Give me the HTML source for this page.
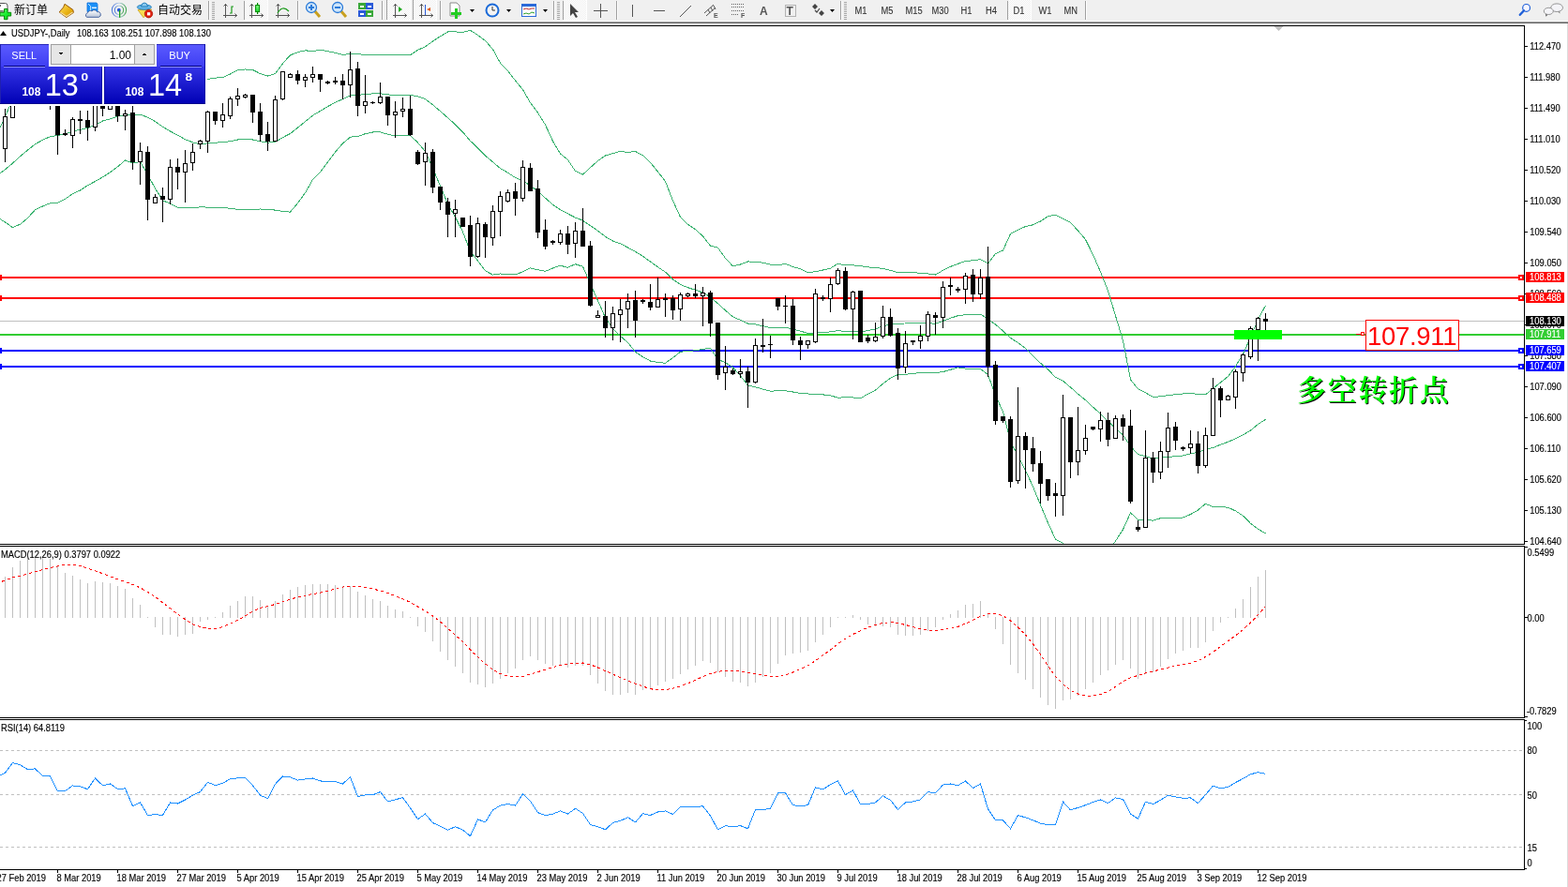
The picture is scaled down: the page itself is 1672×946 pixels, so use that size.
<!DOCTYPE html>
<html><head><meta charset="utf-8"><title>USDJPY Daily</title>
<style>
html,body{margin:0;padding:0;background:#fff;width:1672px;height:946px;overflow:hidden}
svg{display:block;position:absolute;left:0;top:0}
text{white-space:pre}
</style></head>
<body>
<svg width="1672" height="946" viewBox="0 0 1672 946">
<rect x="0" y="0" width="1672" height="946" fill="#fff"/>
<defs><pattern id="chk" x="0" y="0" width="2" height="2" patternUnits="userSpaceOnUse"><rect width="2" height="2" fill="#f0f0f0"/><rect width="1" height="1" fill="#ffffff"/><rect x="1" y="1" width="1" height="1" fill="#ffffff"/></pattern></defs>
<rect x="0" y="0" width="1672" height="22" fill="#f0f0f0"/>
<rect x="0" y="22" width="1672" height="1" fill="#f8f8f8"/>
<rect x="0" y="23" width="1672" height="1" fill="#a0a0a0"/>
<rect x="0" y="24" width="1672" height="1" fill="#646464"/>
<path d="M-2,3.5 h7.5 a2.5,2.5 0 0 1 2.5,2.5 v6 h-10 z" fill="#fff" stroke="#555" stroke-width="1"/>
<rect x="-1" y="5" width="2" height="2" fill="#666"/><circle cx="5.5" cy="5.5" r="0.9" fill="#fff"/>
<rect x="-1" y="11" width="4" height="1.2" fill="#777"/>
<linearGradient id="gpl" x1="0" y1="0" x2="1" y2="1"><stop offset="0" stop-color="#8aff8a"/><stop offset="0.5" stop-color="#18f030"/><stop offset="1" stop-color="#10c020"/></linearGradient>
<path d="M4.5,9.5 h3.5 v3.8 h3.7 v3.7 h-3.7 v3.7 h-3.5 v-3.7 h-4.5 v-3.7 h4.5 z" fill="url(#gpl)" stroke="#078a07" stroke-width="1"/>
<text x="15" y="14.6" font-family="'Liberation Sans', 'Noto Sans CJK SC', sans-serif" font-size="12" fill="#000">新订单</text>
<linearGradient id="ggo" x1="0" y1="0" x2="1" y2="1"><stop offset="0" stop-color="#ffe060"/><stop offset="0.6" stop-color="#e8b010"/><stop offset="1" stop-color="#c88a08"/></linearGradient>
<path d="M69,4.3 L77.8,10.4 L78.4,13.4 L70.8,18.6 L63.2,12.9 L67.6,7.8 Z" fill="url(#ggo)" stroke="#9a5a08" stroke-width="1" stroke-linejoin="round"/>
<path d="M64.5,13.3 L71,17.6 L77.5,13" fill="none" stroke="#f4dc98" stroke-width="1.2"/>
<path d="M93,3 h10 l1,1.5 v8 h-11 z" fill="#1a90f8" stroke="#1070d8" stroke-width="0.8"/>
<path d="M94,4 l2.6,2.6 v6" fill="none" stroke="#d8f0ff" stroke-width="0.9"/>
<rect x="98" y="7.6" width="5" height="1.4" fill="#e8f6ff"/>
<linearGradient id="gcl" x1="0" y1="0" x2="0" y2="1"><stop offset="0" stop-color="#ffffff"/><stop offset="1" stop-color="#b8c4d8"/></linearGradient>
<path d="M92.5,18.3 a2.6,2.6 0 0 1 1,-4.6 a3,3 0 0 1 4.5,-1.8 a3.3,3.3 0 0 1 5.5,0.8 a2.8,2.8 0 0 1 1.8,5.6 z" fill="url(#gcl)" stroke="#3a5a9a" stroke-width="0.9"/>
<linearGradient id="gsg" x1="0" y1="0" x2="1" y2="0"><stop offset="0" stop-color="#3a6ad8"/><stop offset="0.5" stop-color="#b8d0e8"/><stop offset="1" stop-color="#2a9a3a"/></linearGradient>
<circle cx="127" cy="10.8" r="7.6" fill="none" stroke="url(#gsg)" stroke-width="1.1" opacity="0.85"/>
<circle cx="127" cy="10.8" r="4.7" fill="none" stroke="url(#gsg)" stroke-width="1.1" opacity="0.85"/>
<circle cx="126.8" cy="10.7" r="1.9" fill="#2a5ad8"/>
<rect x="127" y="11" width="1.3" height="7.8" fill="#18a018"/>
<path d="M147,10.6 L161.8,10 L153,18.8 Z" fill="#f8de50" stroke="#c8a020" stroke-width="0.8" stroke-linejoin="round"/>
<ellipse cx="153.9" cy="7.6" rx="7.6" ry="2.6" fill="#6ab8e8" stroke="#1a78b8" stroke-width="0.9"/>
<path d="M150.5,7 q0.5,-4 3.5,-4 q3,0 3.5,4 z" fill="#8ccaf0" stroke="#1a78b8" stroke-width="0.9"/>
<circle cx="158.5" cy="14.7" r="4.2" fill="#e02010" stroke="#a81808" stroke-width="0.8"/>
<rect x="157" y="13.2" width="3.2" height="3.2" fill="#fff"/>
<text x="168" y="14.6" font-family="'Liberation Sans', 'Noto Sans CJK SC', sans-serif" font-size="12" fill="#000">自动交易</text>
<rect x="222" y="1" width="1" height="20" fill="#a0a0a0"/>
<rect x="223" y="1" width="1" height="20" fill="#ffffff"/>
<rect x="226" y="2" width="3" height="1" fill="#a8a8a8"/>
<rect x="226" y="4" width="3" height="1" fill="#a8a8a8"/>
<rect x="226" y="6" width="3" height="1" fill="#a8a8a8"/>
<rect x="226" y="8" width="3" height="1" fill="#a8a8a8"/>
<rect x="226" y="10" width="3" height="1" fill="#a8a8a8"/>
<rect x="226" y="12" width="3" height="1" fill="#a8a8a8"/>
<rect x="226" y="14" width="3" height="1" fill="#a8a8a8"/>
<rect x="226" y="16" width="3" height="1" fill="#a8a8a8"/>
<rect x="226" y="18" width="3" height="1" fill="#a8a8a8"/>
<rect x="226" y="20" width="3" height="1" fill="#a8a8a8"/>
<path d="M240.5,4 v15 M238,16.5 h15" fill="none" stroke="#555" stroke-width="1"/>
<path d="M238.5,6.5 l2,-2 l2,2" fill="none" stroke="#555"/>
<path d="M250.5,14.5 l2,2 l-2,2" fill="none" stroke="#555"/>
<path d="M245,14 h2 v-7 h2" fill="none" stroke="#1a9a1a" stroke-width="1.2"/>
<rect x="260" y="1" width="1" height="20" fill="#a0a0a0"/>
<rect x="261" y="1" width="1" height="20" fill="#ffffff"/>
<rect x="261" y="0" width="24" height="21" fill="url(#chk)"/>
<rect x="285" y="0" width="1" height="22" fill="#ffffff"/>
<rect x="261" y="21" width="25" height="1" fill="#ffffff"/>
<path d="M268.5,4 v15 M266,16.5 h15" fill="none" stroke="#555" stroke-width="1"/>
<path d="M266.5,6.5 l2,-2 l2,2" fill="none" stroke="#555"/>
<path d="M278.5,14.5 l2,2 l-2,2" fill="none" stroke="#555"/>
<rect x="274" y="3" width="1.2" height="12" fill="#008a00"/>
<linearGradient id="gcd" x1="0" y1="0" x2="0" y2="1"><stop offset="0" stop-color="#8aff8a"/><stop offset="1" stop-color="#18d830"/></linearGradient>
<rect x="272.6" y="5.6" width="4" height="7" fill="url(#gcd)" stroke="#008a00" stroke-width="1"/>
<path d="M296.5,4 v15 M294,16.5 h15" fill="none" stroke="#555" stroke-width="1"/>
<path d="M294.5,6.5 l2,-2 l2,2" fill="none" stroke="#555"/>
<path d="M306.5,14.5 l2,2 l-2,2" fill="none" stroke="#555"/>
<path d="M296,14 Q301,5 308,12" fill="none" stroke="#1a9a1a" stroke-width="1.2"/>
<rect x="317" y="1" width="1" height="20" fill="#a0a0a0"/>
<rect x="318" y="1" width="1" height="20" fill="#ffffff"/>
<line x1="335" y1="11" x2="341" y2="18" stroke="#c8a020" stroke-width="3"/>
<circle cx="332" cy="8" r="5.5" fill="#cfe6fa" stroke="#2a7ad8" stroke-width="1.3"/>
<rect x="329" y="7" width="6" height="2" fill="#2a7ad8"/>
<rect x="331" y="5" width="2" height="6" fill="#2a7ad8"/>
<line x1="363" y1="11" x2="369" y2="18" stroke="#c8a020" stroke-width="3"/>
<circle cx="360" cy="8" r="5.5" fill="#cfe6fa" stroke="#2a7ad8" stroke-width="1.3"/>
<rect x="357" y="7" width="6" height="2" fill="#2a7ad8"/>
<rect x="382" y="3" width="8" height="7" fill="#3aa83a"/><rect x="390" y="3" width="8" height="7" fill="#2a5ad8"/>
<rect x="382" y="11" width="8" height="7" fill="#2a5ad8"/><rect x="390" y="11" width="8" height="7" fill="#3aa83a"/>
<rect x="384" y="6" width="4" height="2" fill="#fff"/><rect x="392" y="6" width="4" height="2" fill="#fff"/><rect x="384" y="14" width="4" height="2" fill="#fff"/><rect x="392" y="14" width="4" height="2" fill="#fff"/>
<rect x="407" y="1" width="1" height="20" fill="#a0a0a0"/>
<rect x="408" y="1" width="1" height="20" fill="#ffffff"/>
<rect x="412" y="0" width="1" height="21" fill="#a0a0a0"/>
<rect x="413" y="0" width="24" height="21" fill="url(#chk)"/>
<rect x="437" y="0" width="1" height="22" fill="#ffffff"/>
<rect x="413" y="21" width="25" height="1" fill="#ffffff"/>
<path d="M421.5,4 v15 M419,16.5 h15" fill="none" stroke="#555" stroke-width="1"/>
<path d="M419.5,6.5 l2,-2 l2,2" fill="none" stroke="#555"/>
<path d="M431.5,14.5 l2,2 l-2,2" fill="none" stroke="#555"/>
<path d="M425,7 l4,3 l-4,3 z" fill="#22aa22"/>
<rect x="440" y="0" width="1" height="21" fill="#a0a0a0"/>
<rect x="441" y="0" width="24" height="21" fill="url(#chk)"/>
<rect x="465" y="0" width="1" height="22" fill="#ffffff"/>
<rect x="441" y="21" width="25" height="1" fill="#ffffff"/>
<path d="M449.5,4 v15 M447,16.5 h15" fill="none" stroke="#555" stroke-width="1"/>
<path d="M447.5,6.5 l2,-2 l2,2" fill="none" stroke="#555"/>
<path d="M459.5,14.5 l2,2 l-2,2" fill="none" stroke="#555"/>
<rect x="453" y="5" width="1" height="11" fill="#2a5ad8"/>
<path d="M459,8 l-4,2 l4,2 z" fill="#e05a1a"/>
<rect x="469" y="1" width="1" height="20" fill="#a0a0a0"/>
<rect x="470" y="1" width="1" height="20" fill="#ffffff"/>
<path d="M480,3 h7 l3,3 v11 h-10 z" fill="#fff" stroke="#8a8a8a"/>
<rect x="485" y="9" width="3" height="11" fill="#22cc22"/><rect x="481" y="13" width="11" height="3" fill="#22cc22"/>
<path d="M501,10 h5 l-2.5,3 z" fill="#000"/>
<circle cx="525" cy="11" r="7.5" fill="#1a6ad8"/><circle cx="525" cy="11" r="5.5" fill="#f4f4f4"/>
<path d="M525,7 v4 h3" fill="none" stroke="#333" stroke-width="1"/>
<path d="M540,10 h5 l-2.5,3 z" fill="#000"/>
<rect x="556.5" y="4.5" width="15" height="13" fill="#fff" stroke="#2a6ad8"/>
<rect x="557" y="5" width="14" height="2" fill="#2a6ad8"/>
<path d="M558,10 l3,-1 l3,1 l3,-1 l3,0" fill="none" stroke="#c03030"/>
<path d="M558,15 l3,-1 l3,1 l3,-2 l3,1" fill="none" stroke="#30a030"/>
<path d="M579,10 h5 l-2.5,3 z" fill="#000"/>
<rect x="590" y="1" width="1" height="20" fill="#a0a0a0"/>
<rect x="591" y="1" width="1" height="20" fill="#ffffff"/>
<rect x="594" y="2" width="3" height="1" fill="#a8a8a8"/>
<rect x="594" y="4" width="3" height="1" fill="#a8a8a8"/>
<rect x="594" y="6" width="3" height="1" fill="#a8a8a8"/>
<rect x="594" y="8" width="3" height="1" fill="#a8a8a8"/>
<rect x="594" y="10" width="3" height="1" fill="#a8a8a8"/>
<rect x="594" y="12" width="3" height="1" fill="#a8a8a8"/>
<rect x="594" y="14" width="3" height="1" fill="#a8a8a8"/>
<rect x="594" y="16" width="3" height="1" fill="#a8a8a8"/>
<rect x="594" y="18" width="3" height="1" fill="#a8a8a8"/>
<rect x="594" y="20" width="3" height="1" fill="#a8a8a8"/>
<rect x="600" y="1" width="1" height="20" fill="#a0a0a0"/>
<rect x="601" y="1" width="1" height="20" fill="#ffffff"/>
<rect x="601" y="0" width="24" height="21" fill="url(#chk)"/>
<rect x="625" y="0" width="1" height="22" fill="#ffffff"/>
<rect x="601" y="21" width="25" height="1" fill="#ffffff"/>
<path d="M608,4 L608,17 L611,14 L614,19 L616,18 L613,13 L617,13 Z" fill="#444"/>
<rect x="640" y="4" width="1" height="15" fill="#555"/><rect x="633" y="11" width="15" height="1" fill="#555"/>
<rect x="657" y="1" width="1" height="20" fill="#a0a0a0"/>
<rect x="658" y="1" width="1" height="20" fill="#ffffff"/>
<rect x="674" y="5" width="1" height="13" fill="#555"/>
<rect x="697" y="11" width="12" height="1" fill="#555"/>
<line x1="725" y1="18" x2="737" y2="6" stroke="#555" stroke-width="1"/>
<path d="M751,14 l10,-9 M753,17 l10,-9 M755,10 l2,4 M758,8 l2,4 M761,6 l2,4" fill="none" stroke="#555" stroke-width="1"/>
<text x="761" y="19" font-family="'Liberation Sans', Arial, sans-serif" font-size="7" font-weight="700" fill="#555">E</text>
<line x1="780" y1="4.5" x2="793" y2="4.5" stroke="#666" stroke-width="1" stroke-dasharray="1 1"/>
<line x1="780" y1="7.5" x2="793" y2="7.5" stroke="#666" stroke-width="1" stroke-dasharray="1 1"/>
<line x1="780" y1="11.5" x2="793" y2="11.5" stroke="#666" stroke-width="1" stroke-dasharray="1 1"/>
<line x1="780" y1="15.5" x2="788" y2="15.5" stroke="#666" stroke-width="1" stroke-dasharray="1 1"/>
<text x="790" y="19" font-family="'Liberation Sans', Arial, sans-serif" font-size="7" font-weight="700" fill="#555">F</text>
<text x="810" y="16" font-family="'Liberation Sans', Arial, sans-serif" font-size="12" font-weight="700" fill="#555">A</text>
<rect x="837.5" y="5.5" width="11" height="12" fill="none" stroke="#777" stroke-dasharray="1 1"/>
<text x="838.5" y="16" font-family="'Liberation Sans', Arial, sans-serif" font-size="12" font-weight="700" fill="#555">T</text>
<path d="M866,7 l3,-3 l3,3 l-3,3 z M873,14 l3,-3 l3,3 l-3,3 z" fill="#444"/>
<path d="M869,11 l2,2 l3,-4" fill="none" stroke="#444" stroke-width="1.2"/>
<path d="M885,10 h5 l-2.5,3 z" fill="#000"/>
<rect x="896" y="1" width="1" height="20" fill="#a0a0a0"/>
<rect x="897" y="1" width="1" height="20" fill="#ffffff"/>
<rect x="900" y="2" width="3" height="1" fill="#a8a8a8"/>
<rect x="900" y="4" width="3" height="1" fill="#a8a8a8"/>
<rect x="900" y="6" width="3" height="1" fill="#a8a8a8"/>
<rect x="900" y="8" width="3" height="1" fill="#a8a8a8"/>
<rect x="900" y="10" width="3" height="1" fill="#a8a8a8"/>
<rect x="900" y="12" width="3" height="1" fill="#a8a8a8"/>
<rect x="900" y="14" width="3" height="1" fill="#a8a8a8"/>
<rect x="900" y="16" width="3" height="1" fill="#a8a8a8"/>
<rect x="900" y="18" width="3" height="1" fill="#a8a8a8"/>
<rect x="900" y="20" width="3" height="1" fill="#a8a8a8"/>
<text transform="translate(911.5,15) scale(0.935,1)" font-family="'Liberation Sans', Arial, sans-serif" font-size="10" fill="#333" stroke="#333" stroke-width="0.1">M1</text>
<text transform="translate(939.5,15) scale(0.935,1)" font-family="'Liberation Sans', Arial, sans-serif" font-size="10" fill="#333" stroke="#333" stroke-width="0.1">M5</text>
<text transform="translate(965.5,15) scale(0.935,1)" font-family="'Liberation Sans', Arial, sans-serif" font-size="10" fill="#333" stroke="#333" stroke-width="0.1">M15</text>
<text transform="translate(993.5,15) scale(0.935,1)" font-family="'Liberation Sans', Arial, sans-serif" font-size="10" fill="#333" stroke="#333" stroke-width="0.1">M30</text>
<text transform="translate(1024.5,15) scale(0.935,1)" font-family="'Liberation Sans', Arial, sans-serif" font-size="10" fill="#333" stroke="#333" stroke-width="0.1">H1</text>
<text transform="translate(1051,15) scale(0.935,1)" font-family="'Liberation Sans', Arial, sans-serif" font-size="10" fill="#333" stroke="#333" stroke-width="0.1">H4</text>
<rect x="1074" y="1" width="1" height="20" fill="#a0a0a0"/>
<rect x="1075" y="1" width="1" height="20" fill="#ffffff"/>
<rect x="1075" y="0" width="24" height="21" fill="url(#chk)"/>
<rect x="1099" y="0" width="1" height="22" fill="#ffffff"/>
<rect x="1075" y="21" width="25" height="1" fill="#ffffff"/>
<text transform="translate(1080.5,15) scale(0.935,1)" font-family="'Liberation Sans', Arial, sans-serif" font-size="10" fill="#333" stroke="#333" stroke-width="0.1">D1</text>
<text transform="translate(1107.5,15) scale(0.935,1)" font-family="'Liberation Sans', Arial, sans-serif" font-size="10" fill="#333" stroke="#333" stroke-width="0.1">W1</text>
<text transform="translate(1134.5,15) scale(0.935,1)" font-family="'Liberation Sans', Arial, sans-serif" font-size="10" fill="#333" stroke="#333" stroke-width="0.1">MN</text>
<rect x="1157" y="1" width="1" height="20" fill="#a0a0a0"/>
<rect x="1158" y="1" width="1" height="20" fill="#ffffff"/>
<circle cx="1627.6" cy="8.4" r="3.9" fill="#f6f6ff" stroke="#1f5fd8" stroke-width="1.2"/>
<line x1="1625" y1="11.3" x2="1620.8" y2="15.8" stroke="#1f5fd8" stroke-width="2.4" stroke-linecap="round"/>
<path d="M1661.5,12.5 L1663.5,14.5 L1663,12 Z" fill="#555"/>
<ellipse cx="1660.1" cy="8.2" rx="6.4" ry="4.3" fill="#f4f4f8" stroke="#8a8a8a" stroke-width="0.9"/>
<path d="M1648,15 L1648.5,17.8 L1650.5,15.5 Z" fill="#555"/>
<ellipse cx="1651.3" cy="11.9" rx="5" ry="3.6" fill="#f4f4f8" stroke="#8a8a8a" stroke-width="0.9"/>
<g shape-rendering="crispEdges">
<defs><clipPath id="cm"><rect x="0" y="28" width="1625" height="552"/></clipPath><clipPath id="cd"><rect x="0" y="583" width="1625" height="182"/></clipPath><clipPath id="cr"><rect x="0" y="768" width="1625" height="159"/></clipPath></defs>
<g clip-path="url(#cm)">
<rect x="0" y="342" width="1625" height="1" fill="#c0c0c0"/>
<rect x="0" y="295" width="1625" height="2" fill="#ff0000"/>
<rect x="0" y="317" width="1625" height="2" fill="#ff0000"/>
<rect x="0" y="356" width="1625" height="2" fill="#32cd32"/>
<rect x="0" y="373" width="1625" height="2" fill="#0000ff"/>
<rect x="0" y="390" width="1625" height="2" fill="#0000ff"/>
<polyline points="-3.5,143.6 5.5,124.6 13.5,105.6 21.5,94.2 29.5,87.6 37.5,83.7 45.5,78.6 53.5,74.7 61.5,72.7 69.5,73.3 77.5,73.5 85.5,73.6 93.5,75.0 101.5,73.4 109.5,69.1 117.5,69.9 125.5,70.4 133.5,74.3 141.5,69.9 149.5,71.4 157.5,64.1 165.5,58.0 173.5,56.9 181.5,62.9 189.5,67.1 197.5,75.4 205.5,81.7 213.5,87.3 221.5,84.5 229.5,83.1 237.5,82.5 245.5,79.0 253.5,74.6 261.5,74.0 269.5,74.5 277.5,78.6 285.5,81.0 293.5,78.7 301.5,67.7 309.5,58.8 317.5,55.7 325.5,53.8 333.5,54.6 341.5,53.1 349.5,54.6 357.5,56.4 365.5,58.4 373.5,57.6 381.5,57.7 389.5,58.4 397.5,58.7 405.5,58.7 413.5,58.4 421.5,58.5 429.5,58.6 437.5,58.7 445.5,53.4 453.5,49.7 461.5,44.0 469.5,38.7 477.5,34.0 485.5,33.9 493.5,34.5 501.5,32.4 509.5,37.4 517.5,43.4 525.5,52.6 533.5,67.2 541.5,75.6 549.5,85.9 557.5,95.7 565.5,109.6 573.5,120.3 581.5,133.1 589.5,150.6 597.5,164.0 605.5,170.4 613.5,182.4 621.5,186.1 629.5,178.7 637.5,171.6 645.5,166.0 653.5,163.7 661.5,161.4 669.5,162.5 677.5,161.5 685.5,165.8 693.5,173.3 701.5,183.2 709.5,193.3 717.5,214.1 725.5,231.5 733.5,239.2 741.5,244.8 749.5,251.8 757.5,262.2 765.5,264.2 773.5,275.4 781.5,283.9 789.5,282.0 797.5,279.0 805.5,279.1 813.5,280.3 821.5,282.1 829.5,282.8 837.5,281.5 845.5,284.4 853.5,286.9 861.5,290.8 869.5,289.7 877.5,288.0 885.5,286.1 893.5,281.1 901.5,283.0 909.5,282.8 917.5,283.7 925.5,284.9 933.5,285.6 941.5,286.4 949.5,288.4 957.5,290.7 965.5,290.7 973.5,290.9 981.5,291.1 989.5,292.0 997.5,293.1 1005.5,288.3 1013.5,284.4 1021.5,281.4 1029.5,278.4 1037.5,277.8 1045.5,276.7 1053.5,281.0 1061.5,270.6 1069.5,267.0 1077.5,249.4 1085.5,245.3 1093.5,241.5 1101.5,239.8 1109.5,236.0 1117.5,230.7 1125.5,229.2 1133.5,233.2 1141.5,237.4 1149.5,246.0 1157.5,255.4 1165.5,271.7 1173.5,289.8 1181.5,310.0 1189.5,336.8 1197.5,363.2 1205.5,404.9 1213.5,414.9 1221.5,418.8 1229.5,423.5 1237.5,422.8 1245.5,421.6 1253.5,420.7 1261.5,420.0 1269.5,419.2 1277.5,420.6 1285.5,420.8 1293.5,414.4 1301.5,407.9 1309.5,401.5 1317.5,390.7 1325.5,377.6 1333.5,359.7 1341.5,340.7 1349.5,325.8" fill="none" stroke="#3cb371" stroke-width="1" shape-rendering="crispEdges"/>
<polyline points="-3.5,187.5 5.5,180.8 13.5,174.1 21.5,166.7 29.5,160.1 37.5,153.7 45.5,149.3 53.5,145.7 61.5,144.5 69.5,142.8 77.5,140.1 85.5,138.3 93.5,136.4 101.5,133.4 109.5,129.0 117.5,126.8 125.5,124.1 133.5,122.6 141.5,122.0 149.5,122.0 157.5,125.2 165.5,129.5 173.5,135.3 181.5,140.0 189.5,144.2 197.5,148.7 205.5,151.8 213.5,154.0 221.5,152.8 229.5,152.1 237.5,151.8 245.5,150.7 253.5,149.0 261.5,148.8 269.5,149.0 277.5,150.8 285.5,152.1 293.5,151.4 301.5,146.6 309.5,142.5 317.5,136.1 325.5,129.7 333.5,123.1 341.5,118.4 349.5,113.6 357.5,109.2 365.5,105.7 373.5,101.9 381.5,101.5 389.5,100.5 397.5,99.9 405.5,99.8 413.5,100.8 421.5,101.7 429.5,101.6 437.5,101.5 445.5,102.8 453.5,105.6 461.5,111.8 469.5,118.6 477.5,125.7 485.5,132.8 493.5,140.9 501.5,150.3 509.5,157.8 517.5,166.1 525.5,172.8 533.5,179.6 541.5,184.2 549.5,189.4 557.5,192.8 565.5,197.8 573.5,204.1 581.5,211.2 589.5,218.3 597.5,223.6 605.5,227.9 613.5,232.1 621.5,235.2 629.5,240.7 637.5,246.1 645.5,252.4 653.5,257.0 661.5,259.8 669.5,264.0 677.5,268.4 685.5,273.2 693.5,279.1 701.5,284.8 709.5,290.2 717.5,297.9 725.5,303.4 733.5,306.7 741.5,309.3 749.5,312.0 757.5,316.8 765.5,323.8 773.5,331.0 781.5,337.9 789.5,341.4 797.5,345.0 805.5,345.9 813.5,347.7 821.5,349.6 829.5,349.9 837.5,349.1 845.5,351.2 853.5,353.2 861.5,355.4 869.5,355.1 877.5,354.5 885.5,353.9 893.5,352.7 901.5,353.4 909.5,353.3 917.5,354.3 925.5,352.5 933.5,350.9 941.5,347.8 949.5,345.9 957.5,345.1 965.5,345.0 973.5,344.7 981.5,344.3 989.5,344.7 997.5,345.3 1005.5,342.4 1013.5,339.3 1021.5,336.7 1029.5,335.7 1037.5,335.5 1045.5,335.1 1053.5,340.2 1061.5,346.1 1069.5,353.0 1077.5,360.4 1085.5,365.5 1093.5,371.6 1101.5,379.4 1109.5,387.3 1117.5,394.1 1125.5,402.3 1133.5,406.3 1141.5,413.0 1149.5,420.2 1157.5,426.7 1165.5,434.2 1173.5,441.4 1181.5,449.3 1189.5,456.9 1197.5,464.0 1205.5,475.9 1213.5,484.6 1221.5,486.6 1229.5,489.3 1237.5,487.7 1245.5,487.3 1253.5,486.8 1261.5,486.0 1269.5,483.9 1277.5,482.3 1285.5,479.1 1293.5,477.5 1301.5,474.2 1309.5,471.3 1317.5,467.8 1325.5,463.9 1333.5,459.0 1341.5,452.5 1349.5,447.3" fill="none" stroke="#3cb371" stroke-width="1" shape-rendering="crispEdges"/>
<polyline points="-3.5,231.4 5.5,237.0 13.5,242.6 21.5,239.2 29.5,232.6 37.5,223.7 45.5,220.0 53.5,216.7 61.5,216.3 69.5,212.3 77.5,206.7 85.5,203.0 93.5,197.8 101.5,193.4 109.5,188.9 117.5,183.7 125.5,177.8 133.5,170.9 141.5,174.1 149.5,172.6 157.5,186.2 165.5,201.0 173.5,213.7 181.5,217.1 189.5,221.3 197.5,221.9 205.5,221.8 213.5,220.8 221.5,221.1 229.5,221.1 237.5,221.2 245.5,222.3 253.5,223.4 261.5,223.6 269.5,223.5 277.5,223.0 285.5,223.3 293.5,224.1 301.5,225.4 309.5,226.1 317.5,216.6 325.5,205.6 333.5,191.5 341.5,183.7 349.5,172.7 357.5,162.1 365.5,153.0 373.5,146.2 381.5,145.4 389.5,142.7 397.5,141.0 405.5,140.9 413.5,143.2 421.5,144.9 429.5,144.5 437.5,144.4 445.5,152.1 453.5,161.5 461.5,179.5 469.5,198.4 477.5,217.4 485.5,231.6 493.5,247.3 501.5,268.2 509.5,278.2 517.5,288.8 525.5,293.1 533.5,291.9 541.5,292.8 549.5,292.8 557.5,289.9 565.5,285.9 573.5,287.8 581.5,289.3 589.5,286.0 597.5,283.2 605.5,285.3 613.5,281.7 621.5,284.3 629.5,302.7 637.5,320.6 645.5,338.8 653.5,350.3 661.5,358.3 669.5,365.4 677.5,375.3 685.5,380.7 693.5,385.0 701.5,386.5 709.5,387.2 717.5,381.6 725.5,375.3 733.5,374.2 741.5,373.9 749.5,372.3 757.5,371.4 765.5,383.4 773.5,386.6 781.5,391.8 789.5,400.8 797.5,411.0 805.5,412.8 813.5,415.1 821.5,417.1 829.5,416.9 837.5,416.8 845.5,418.0 853.5,419.5 861.5,420.0 869.5,420.4 877.5,420.9 885.5,421.8 893.5,424.2 901.5,423.8 909.5,423.9 917.5,424.9 925.5,420.1 933.5,416.1 941.5,409.3 949.5,403.3 957.5,399.5 965.5,399.2 973.5,398.5 981.5,397.4 989.5,397.4 997.5,397.5 1005.5,396.6 1013.5,394.3 1021.5,391.9 1029.5,393.1 1037.5,393.1 1045.5,393.6 1053.5,399.4 1061.5,421.7 1069.5,439.0 1077.5,471.5 1085.5,485.7 1093.5,501.6 1101.5,519.0 1109.5,538.6 1117.5,557.6 1125.5,575.3 1133.5,579.4 1141.5,588.6 1149.5,594.5 1157.5,597.9 1165.5,596.8 1173.5,592.9 1181.5,588.7 1189.5,577.0 1197.5,564.7 1205.5,546.9 1213.5,554.3 1221.5,554.4 1229.5,555.2 1237.5,552.7 1245.5,553.0 1253.5,552.8 1261.5,552.0 1269.5,548.6 1277.5,544.0 1285.5,537.3 1293.5,540.6 1301.5,540.5 1309.5,541.2 1317.5,544.9 1325.5,550.1 1333.5,558.2 1341.5,564.3 1349.5,568.9" fill="none" stroke="#3cb371" stroke-width="1" shape-rendering="crispEdges"/>
<rect x="5" y="116" width="1" height="57" fill="#000"/>
<rect x="3" y="124" width="5" height="35" fill="#000"/>
<rect x="4" y="125" width="3" height="33" fill="#fff"/>
<rect x="13" y="90" width="1" height="36" fill="#000"/>
<rect x="11" y="95" width="5" height="31" fill="#000"/>
<rect x="12" y="96" width="3" height="29" fill="#fff"/>
<rect x="21" y="80" width="1" height="25" fill="#000"/>
<rect x="19" y="85" width="5" height="15" fill="#000"/>
<rect x="20" y="86" width="3" height="13" fill="#fff"/>
<rect x="29" y="80" width="1" height="25" fill="#000"/>
<rect x="27" y="85" width="5" height="15" fill="#000"/>
<rect x="37" y="80" width="1" height="25" fill="#000"/>
<rect x="35" y="85" width="5" height="15" fill="#000"/>
<rect x="36" y="86" width="3" height="13" fill="#fff"/>
<rect x="45" y="80" width="1" height="25" fill="#000"/>
<rect x="43" y="85" width="5" height="15" fill="#000"/>
<rect x="53" y="85" width="1" height="32" fill="#000"/>
<rect x="51" y="90" width="5" height="15" fill="#000"/>
<rect x="61" y="95" width="1" height="70" fill="#000"/>
<rect x="59" y="100" width="5" height="44" fill="#000"/>
<rect x="69" y="138" width="1" height="7" fill="#000"/>
<rect x="67" y="142" width="5" height="2" fill="#000"/>
<rect x="77" y="125" width="1" height="33" fill="#000"/>
<rect x="75" y="127" width="5" height="18" fill="#000"/>
<rect x="76" y="128" width="3" height="16" fill="#fff"/>
<rect x="85" y="118" width="1" height="25" fill="#000"/>
<rect x="83" y="127" width="5" height="2" fill="#000"/>
<rect x="93" y="118" width="1" height="32" fill="#000"/>
<rect x="91" y="128" width="5" height="8" fill="#000"/>
<rect x="101" y="95" width="1" height="45" fill="#000"/>
<rect x="99" y="105" width="5" height="31" fill="#000"/>
<rect x="100" y="106" width="3" height="29" fill="#fff"/>
<rect x="109" y="100" width="1" height="24" fill="#000"/>
<rect x="107" y="105" width="5" height="11" fill="#000"/>
<rect x="117" y="105" width="1" height="12" fill="#000"/>
<rect x="115" y="108" width="5" height="9" fill="#000"/>
<rect x="116" y="109" width="3" height="7" fill="#fff"/>
<rect x="125" y="105" width="1" height="25" fill="#000"/>
<rect x="123" y="108" width="5" height="16" fill="#000"/>
<rect x="133" y="117" width="1" height="22" fill="#000"/>
<rect x="131" y="121" width="5" height="3" fill="#000"/>
<rect x="132" y="122" width="3" height="1" fill="#fff"/>
<rect x="141" y="113" width="1" height="68" fill="#000"/>
<rect x="139" y="120" width="5" height="53" fill="#000"/>
<rect x="149" y="152" width="1" height="45" fill="#000"/>
<rect x="147" y="161" width="5" height="12" fill="#000"/>
<rect x="148" y="162" width="3" height="10" fill="#fff"/>
<rect x="157" y="156" width="1" height="79" fill="#000"/>
<rect x="155" y="162" width="5" height="51" fill="#000"/>
<rect x="165" y="207" width="1" height="10" fill="#000"/>
<rect x="163" y="210" width="5" height="7" fill="#000"/>
<rect x="164" y="211" width="3" height="5" fill="#fff"/>
<rect x="173" y="200" width="1" height="37" fill="#000"/>
<rect x="171" y="209" width="5" height="4" fill="#000"/>
<rect x="181" y="170" width="1" height="48" fill="#000"/>
<rect x="179" y="178" width="5" height="35" fill="#000"/>
<rect x="180" y="179" width="3" height="33" fill="#fff"/>
<rect x="189" y="169" width="1" height="33" fill="#000"/>
<rect x="187" y="178" width="5" height="6" fill="#000"/>
<rect x="197" y="160" width="1" height="56" fill="#000"/>
<rect x="195" y="174" width="5" height="10" fill="#000"/>
<rect x="196" y="175" width="3" height="8" fill="#fff"/>
<rect x="205" y="153" width="1" height="29" fill="#000"/>
<rect x="203" y="162" width="5" height="12" fill="#000"/>
<rect x="204" y="163" width="3" height="10" fill="#fff"/>
<rect x="213" y="149" width="1" height="10" fill="#000"/>
<rect x="211" y="150" width="5" height="4" fill="#000"/>
<rect x="212" y="151" width="3" height="2" fill="#fff"/>
<rect x="221" y="118" width="1" height="45" fill="#000"/>
<rect x="219" y="119" width="5" height="32" fill="#000"/>
<rect x="220" y="120" width="3" height="30" fill="#fff"/>
<rect x="229" y="119" width="1" height="14" fill="#000"/>
<rect x="227" y="119" width="5" height="10" fill="#000"/>
<rect x="237" y="110" width="1" height="26" fill="#000"/>
<rect x="235" y="122" width="5" height="7" fill="#000"/>
<rect x="236" y="123" width="3" height="5" fill="#fff"/>
<rect x="245" y="103" width="1" height="24" fill="#000"/>
<rect x="243" y="105" width="5" height="19" fill="#000"/>
<rect x="244" y="106" width="3" height="17" fill="#fff"/>
<rect x="253" y="94" width="1" height="19" fill="#000"/>
<rect x="251" y="102" width="5" height="4" fill="#000"/>
<rect x="252" y="103" width="3" height="2" fill="#fff"/>
<rect x="261" y="100" width="1" height="5" fill="#000"/>
<rect x="259" y="101" width="5" height="3" fill="#000"/>
<rect x="260" y="102" width="3" height="1" fill="#fff"/>
<rect x="269" y="101" width="1" height="30" fill="#000"/>
<rect x="267" y="101" width="5" height="19" fill="#000"/>
<rect x="277" y="110" width="1" height="41" fill="#000"/>
<rect x="275" y="119" width="5" height="25" fill="#000"/>
<rect x="285" y="130" width="1" height="31" fill="#000"/>
<rect x="283" y="143" width="5" height="8" fill="#000"/>
<rect x="293" y="102" width="1" height="49" fill="#000"/>
<rect x="291" y="106" width="5" height="45" fill="#000"/>
<rect x="292" y="107" width="3" height="43" fill="#fff"/>
<rect x="301" y="76" width="1" height="31" fill="#000"/>
<rect x="299" y="76" width="5" height="30" fill="#000"/>
<rect x="300" y="77" width="3" height="28" fill="#fff"/>
<rect x="309" y="78" width="1" height="5" fill="#000"/>
<rect x="307" y="79" width="5" height="4" fill="#000"/>
<rect x="308" y="80" width="3" height="2" fill="#fff"/>
<rect x="317" y="75" width="1" height="15" fill="#000"/>
<rect x="315" y="79" width="5" height="7" fill="#000"/>
<rect x="325" y="79" width="1" height="14" fill="#000"/>
<rect x="323" y="82" width="5" height="4" fill="#000"/>
<rect x="324" y="83" width="3" height="2" fill="#fff"/>
<rect x="333" y="71" width="1" height="17" fill="#000"/>
<rect x="331" y="79" width="5" height="4" fill="#000"/>
<rect x="332" y="80" width="3" height="2" fill="#fff"/>
<rect x="341" y="79" width="1" height="19" fill="#000"/>
<rect x="339" y="79" width="5" height="6" fill="#000"/>
<rect x="349" y="86" width="1" height="4" fill="#000"/>
<rect x="347" y="87" width="5" height="2" fill="#000"/>
<rect x="357" y="82" width="1" height="8" fill="#000"/>
<rect x="355" y="86" width="5" height="2" fill="#000"/>
<rect x="365" y="79" width="1" height="27" fill="#000"/>
<rect x="363" y="86" width="5" height="5" fill="#000"/>
<rect x="373" y="55" width="1" height="49" fill="#000"/>
<rect x="371" y="74" width="5" height="17" fill="#000"/>
<rect x="372" y="75" width="3" height="15" fill="#fff"/>
<rect x="381" y="66" width="1" height="58" fill="#000"/>
<rect x="379" y="73" width="5" height="40" fill="#000"/>
<rect x="389" y="80" width="1" height="41" fill="#000"/>
<rect x="387" y="108" width="5" height="5" fill="#000"/>
<rect x="388" y="109" width="3" height="3" fill="#fff"/>
<rect x="397" y="108" width="1" height="3" fill="#000"/>
<rect x="395" y="109" width="5" height="1" fill="#000"/>
<rect x="405" y="88" width="1" height="23" fill="#000"/>
<rect x="403" y="103" width="5" height="7" fill="#000"/>
<rect x="404" y="104" width="3" height="5" fill="#fff"/>
<rect x="413" y="103" width="1" height="31" fill="#000"/>
<rect x="411" y="103" width="5" height="20" fill="#000"/>
<rect x="421" y="108" width="1" height="39" fill="#000"/>
<rect x="419" y="119" width="5" height="4" fill="#000"/>
<rect x="420" y="120" width="3" height="2" fill="#fff"/>
<rect x="429" y="104" width="1" height="21" fill="#000"/>
<rect x="427" y="116" width="5" height="3" fill="#000"/>
<rect x="428" y="117" width="3" height="1" fill="#fff"/>
<rect x="437" y="102" width="1" height="43" fill="#000"/>
<rect x="435" y="116" width="5" height="28" fill="#000"/>
<rect x="445" y="160" width="1" height="16" fill="#000"/>
<rect x="443" y="162" width="5" height="13" fill="#000"/>
<rect x="453" y="152" width="1" height="46" fill="#000"/>
<rect x="451" y="163" width="5" height="10" fill="#000"/>
<rect x="452" y="164" width="3" height="8" fill="#fff"/>
<rect x="461" y="159" width="1" height="47" fill="#000"/>
<rect x="459" y="162" width="5" height="38" fill="#000"/>
<rect x="469" y="199" width="1" height="25" fill="#000"/>
<rect x="467" y="199" width="5" height="17" fill="#000"/>
<rect x="477" y="211" width="1" height="42" fill="#000"/>
<rect x="475" y="215" width="5" height="14" fill="#000"/>
<rect x="485" y="213" width="1" height="40" fill="#000"/>
<rect x="483" y="223" width="5" height="5" fill="#000"/>
<rect x="484" y="224" width="3" height="3" fill="#fff"/>
<rect x="493" y="232" width="1" height="10" fill="#000"/>
<rect x="491" y="232" width="5" height="10" fill="#000"/>
<rect x="501" y="230" width="1" height="54" fill="#000"/>
<rect x="499" y="240" width="5" height="34" fill="#000"/>
<rect x="509" y="232" width="1" height="43" fill="#000"/>
<rect x="507" y="238" width="5" height="36" fill="#000"/>
<rect x="508" y="239" width="3" height="34" fill="#fff"/>
<rect x="517" y="237" width="1" height="38" fill="#000"/>
<rect x="515" y="239" width="5" height="14" fill="#000"/>
<rect x="525" y="219" width="1" height="43" fill="#000"/>
<rect x="523" y="225" width="5" height="29" fill="#000"/>
<rect x="524" y="226" width="3" height="27" fill="#fff"/>
<rect x="533" y="204" width="1" height="48" fill="#000"/>
<rect x="531" y="209" width="5" height="17" fill="#000"/>
<rect x="532" y="210" width="3" height="15" fill="#fff"/>
<rect x="541" y="202" width="1" height="14" fill="#000"/>
<rect x="539" y="205" width="5" height="10" fill="#000"/>
<rect x="540" y="206" width="3" height="8" fill="#fff"/>
<rect x="549" y="195" width="1" height="35" fill="#000"/>
<rect x="547" y="204" width="5" height="8" fill="#000"/>
<rect x="557" y="171" width="1" height="44" fill="#000"/>
<rect x="555" y="178" width="5" height="34" fill="#000"/>
<rect x="556" y="179" width="3" height="32" fill="#fff"/>
<rect x="565" y="174" width="1" height="30" fill="#000"/>
<rect x="563" y="179" width="5" height="25" fill="#000"/>
<rect x="573" y="192" width="1" height="62" fill="#000"/>
<rect x="571" y="201" width="5" height="47" fill="#000"/>
<rect x="581" y="234" width="1" height="32" fill="#000"/>
<rect x="579" y="245" width="5" height="18" fill="#000"/>
<rect x="589" y="256" width="1" height="5" fill="#000"/>
<rect x="587" y="257" width="5" height="2" fill="#000"/>
<rect x="597" y="245" width="1" height="16" fill="#000"/>
<rect x="595" y="249" width="5" height="10" fill="#000"/>
<rect x="596" y="250" width="3" height="8" fill="#fff"/>
<rect x="605" y="241" width="1" height="30" fill="#000"/>
<rect x="603" y="249" width="5" height="12" fill="#000"/>
<rect x="613" y="237" width="1" height="38" fill="#000"/>
<rect x="611" y="246" width="5" height="14" fill="#000"/>
<rect x="612" y="247" width="3" height="12" fill="#fff"/>
<rect x="621" y="222" width="1" height="41" fill="#000"/>
<rect x="619" y="246" width="5" height="17" fill="#000"/>
<rect x="629" y="257" width="1" height="70" fill="#000"/>
<rect x="627" y="262" width="5" height="64" fill="#000"/>
<rect x="637" y="331" width="1" height="8" fill="#000"/>
<rect x="635" y="336" width="5" height="3" fill="#000"/>
<rect x="636" y="337" width="3" height="1" fill="#fff"/>
<rect x="645" y="321" width="1" height="39" fill="#000"/>
<rect x="643" y="337" width="5" height="13" fill="#000"/>
<rect x="653" y="327" width="1" height="36" fill="#000"/>
<rect x="651" y="334" width="5" height="16" fill="#000"/>
<rect x="652" y="335" width="3" height="14" fill="#fff"/>
<rect x="661" y="319" width="1" height="46" fill="#000"/>
<rect x="659" y="330" width="5" height="6" fill="#000"/>
<rect x="660" y="331" width="3" height="4" fill="#fff"/>
<rect x="669" y="313" width="1" height="37" fill="#000"/>
<rect x="667" y="321" width="5" height="9" fill="#000"/>
<rect x="668" y="322" width="3" height="7" fill="#fff"/>
<rect x="677" y="310" width="1" height="50" fill="#000"/>
<rect x="675" y="320" width="5" height="22" fill="#000"/>
<rect x="685" y="319" width="1" height="5" fill="#000"/>
<rect x="683" y="320" width="5" height="2" fill="#000"/>
<rect x="693" y="303" width="1" height="28" fill="#000"/>
<rect x="691" y="322" width="5" height="6" fill="#000"/>
<rect x="701" y="296" width="1" height="32" fill="#000"/>
<rect x="699" y="319" width="5" height="9" fill="#000"/>
<rect x="700" y="320" width="3" height="7" fill="#fff"/>
<rect x="709" y="313" width="1" height="25" fill="#000"/>
<rect x="707" y="318" width="5" height="2" fill="#000"/>
<rect x="717" y="315" width="1" height="26" fill="#000"/>
<rect x="715" y="318" width="5" height="13" fill="#000"/>
<rect x="725" y="312" width="1" height="30" fill="#000"/>
<rect x="723" y="314" width="5" height="16" fill="#000"/>
<rect x="724" y="315" width="3" height="14" fill="#fff"/>
<rect x="733" y="312" width="1" height="5" fill="#000"/>
<rect x="731" y="313" width="5" height="3" fill="#000"/>
<rect x="732" y="314" width="3" height="1" fill="#fff"/>
<rect x="741" y="303" width="1" height="15" fill="#000"/>
<rect x="739" y="313" width="5" height="3" fill="#000"/>
<rect x="749" y="306" width="1" height="42" fill="#000"/>
<rect x="747" y="312" width="5" height="4" fill="#000"/>
<rect x="748" y="313" width="3" height="2" fill="#fff"/>
<rect x="757" y="310" width="1" height="49" fill="#000"/>
<rect x="755" y="312" width="5" height="33" fill="#000"/>
<rect x="765" y="344" width="1" height="61" fill="#000"/>
<rect x="763" y="344" width="5" height="56" fill="#000"/>
<rect x="773" y="369" width="1" height="47" fill="#000"/>
<rect x="771" y="391" width="5" height="7" fill="#000"/>
<rect x="772" y="392" width="3" height="5" fill="#fff"/>
<rect x="781" y="393" width="1" height="7" fill="#000"/>
<rect x="779" y="395" width="5" height="4" fill="#000"/>
<rect x="789" y="383" width="1" height="20" fill="#000"/>
<rect x="787" y="396" width="5" height="3" fill="#000"/>
<rect x="788" y="397" width="3" height="1" fill="#fff"/>
<rect x="797" y="391" width="1" height="44" fill="#000"/>
<rect x="795" y="396" width="5" height="12" fill="#000"/>
<rect x="805" y="361" width="1" height="48" fill="#000"/>
<rect x="803" y="368" width="5" height="40" fill="#000"/>
<rect x="804" y="369" width="3" height="38" fill="#fff"/>
<rect x="813" y="340" width="1" height="36" fill="#000"/>
<rect x="811" y="368" width="5" height="2" fill="#000"/>
<rect x="821" y="358" width="1" height="24" fill="#000"/>
<rect x="819" y="367" width="5" height="1" fill="#000"/>
<rect x="829" y="318" width="1" height="13" fill="#000"/>
<rect x="827" y="318" width="5" height="9" fill="#000"/>
<rect x="837" y="315" width="1" height="30" fill="#000"/>
<rect x="835" y="326" width="5" height="1" fill="#000"/>
<rect x="845" y="319" width="1" height="49" fill="#000"/>
<rect x="843" y="326" width="5" height="37" fill="#000"/>
<rect x="853" y="359" width="1" height="25" fill="#000"/>
<rect x="851" y="363" width="5" height="5" fill="#000"/>
<rect x="861" y="363" width="1" height="9" fill="#000"/>
<rect x="859" y="363" width="5" height="5" fill="#000"/>
<rect x="860" y="364" width="3" height="3" fill="#fff"/>
<rect x="869" y="308" width="1" height="58" fill="#000"/>
<rect x="867" y="313" width="5" height="52" fill="#000"/>
<rect x="868" y="314" width="3" height="50" fill="#fff"/>
<rect x="877" y="315" width="1" height="6" fill="#000"/>
<rect x="875" y="317" width="5" height="2" fill="#000"/>
<rect x="885" y="296" width="1" height="37" fill="#000"/>
<rect x="883" y="303" width="5" height="16" fill="#000"/>
<rect x="884" y="304" width="3" height="14" fill="#fff"/>
<rect x="893" y="286" width="1" height="18" fill="#000"/>
<rect x="891" y="288" width="5" height="15" fill="#000"/>
<rect x="892" y="289" width="3" height="13" fill="#fff"/>
<rect x="901" y="285" width="1" height="46" fill="#000"/>
<rect x="899" y="289" width="5" height="41" fill="#000"/>
<rect x="909" y="310" width="1" height="52" fill="#000"/>
<rect x="907" y="311" width="5" height="19" fill="#000"/>
<rect x="908" y="312" width="3" height="17" fill="#fff"/>
<rect x="917" y="310" width="1" height="55" fill="#000"/>
<rect x="915" y="310" width="5" height="55" fill="#000"/>
<rect x="925" y="357" width="1" height="9" fill="#000"/>
<rect x="923" y="360" width="5" height="4" fill="#000"/>
<rect x="933" y="344" width="1" height="21" fill="#000"/>
<rect x="931" y="359" width="5" height="5" fill="#000"/>
<rect x="932" y="360" width="3" height="3" fill="#fff"/>
<rect x="941" y="326" width="1" height="35" fill="#000"/>
<rect x="939" y="338" width="5" height="21" fill="#000"/>
<rect x="940" y="339" width="3" height="19" fill="#fff"/>
<rect x="949" y="329" width="1" height="30" fill="#000"/>
<rect x="947" y="338" width="5" height="20" fill="#000"/>
<rect x="957" y="350" width="1" height="55" fill="#000"/>
<rect x="955" y="355" width="5" height="38" fill="#000"/>
<rect x="965" y="353" width="1" height="45" fill="#000"/>
<rect x="963" y="366" width="5" height="26" fill="#000"/>
<rect x="964" y="367" width="3" height="24" fill="#fff"/>
<rect x="973" y="363" width="1" height="5" fill="#000"/>
<rect x="971" y="363" width="5" height="2" fill="#000"/>
<rect x="981" y="347" width="1" height="25" fill="#000"/>
<rect x="979" y="358" width="5" height="6" fill="#000"/>
<rect x="980" y="359" width="3" height="4" fill="#fff"/>
<rect x="989" y="332" width="1" height="32" fill="#000"/>
<rect x="987" y="335" width="5" height="24" fill="#000"/>
<rect x="988" y="336" width="3" height="22" fill="#fff"/>
<rect x="997" y="333" width="1" height="24" fill="#000"/>
<rect x="995" y="336" width="5" height="3" fill="#000"/>
<rect x="1005" y="300" width="1" height="50" fill="#000"/>
<rect x="1003" y="306" width="5" height="33" fill="#000"/>
<rect x="1004" y="307" width="3" height="31" fill="#fff"/>
<rect x="1013" y="296" width="1" height="19" fill="#000"/>
<rect x="1011" y="304" width="5" height="2" fill="#000"/>
<rect x="1021" y="306" width="1" height="6" fill="#000"/>
<rect x="1019" y="308" width="5" height="2" fill="#000"/>
<rect x="1029" y="291" width="1" height="33" fill="#000"/>
<rect x="1027" y="294" width="5" height="15" fill="#000"/>
<rect x="1028" y="295" width="3" height="13" fill="#fff"/>
<rect x="1037" y="287" width="1" height="35" fill="#000"/>
<rect x="1035" y="293" width="5" height="21" fill="#000"/>
<rect x="1045" y="287" width="1" height="32" fill="#000"/>
<rect x="1043" y="296" width="5" height="18" fill="#000"/>
<rect x="1044" y="297" width="3" height="16" fill="#fff"/>
<rect x="1053" y="263" width="1" height="139" fill="#000"/>
<rect x="1051" y="295" width="5" height="96" fill="#000"/>
<rect x="1061" y="385" width="1" height="68" fill="#000"/>
<rect x="1059" y="389" width="5" height="60" fill="#000"/>
<rect x="1069" y="444" width="1" height="7" fill="#000"/>
<rect x="1067" y="444" width="5" height="5" fill="#000"/>
<rect x="1077" y="444" width="1" height="76" fill="#000"/>
<rect x="1075" y="447" width="5" height="67" fill="#000"/>
<rect x="1085" y="413" width="1" height="103" fill="#000"/>
<rect x="1083" y="465" width="5" height="48" fill="#000"/>
<rect x="1084" y="466" width="3" height="46" fill="#fff"/>
<rect x="1093" y="461" width="1" height="60" fill="#000"/>
<rect x="1091" y="465" width="5" height="15" fill="#000"/>
<rect x="1101" y="466" width="1" height="37" fill="#000"/>
<rect x="1099" y="478" width="5" height="17" fill="#000"/>
<rect x="1109" y="481" width="1" height="56" fill="#000"/>
<rect x="1107" y="494" width="5" height="22" fill="#000"/>
<rect x="1117" y="511" width="1" height="23" fill="#000"/>
<rect x="1115" y="511" width="5" height="18" fill="#000"/>
<rect x="1125" y="515" width="1" height="36" fill="#000"/>
<rect x="1123" y="526" width="5" height="3" fill="#000"/>
<rect x="1133" y="421" width="1" height="129" fill="#000"/>
<rect x="1131" y="445" width="5" height="84" fill="#000"/>
<rect x="1132" y="446" width="3" height="82" fill="#fff"/>
<rect x="1141" y="445" width="1" height="65" fill="#000"/>
<rect x="1139" y="445" width="5" height="48" fill="#000"/>
<rect x="1149" y="434" width="1" height="73" fill="#000"/>
<rect x="1147" y="480" width="5" height="13" fill="#000"/>
<rect x="1148" y="481" width="3" height="11" fill="#fff"/>
<rect x="1157" y="453" width="1" height="32" fill="#000"/>
<rect x="1155" y="467" width="5" height="14" fill="#000"/>
<rect x="1156" y="468" width="3" height="12" fill="#fff"/>
<rect x="1165" y="455" width="1" height="4" fill="#000"/>
<rect x="1163" y="455" width="5" height="3" fill="#000"/>
<rect x="1173" y="439" width="1" height="32" fill="#000"/>
<rect x="1171" y="448" width="5" height="10" fill="#000"/>
<rect x="1172" y="449" width="3" height="8" fill="#fff"/>
<rect x="1181" y="440" width="1" height="36" fill="#000"/>
<rect x="1179" y="448" width="5" height="21" fill="#000"/>
<rect x="1189" y="443" width="1" height="25" fill="#000"/>
<rect x="1187" y="446" width="5" height="22" fill="#000"/>
<rect x="1188" y="447" width="3" height="20" fill="#fff"/>
<rect x="1197" y="442" width="1" height="28" fill="#000"/>
<rect x="1195" y="446" width="5" height="9" fill="#000"/>
<rect x="1205" y="437" width="1" height="100" fill="#000"/>
<rect x="1203" y="454" width="5" height="81" fill="#000"/>
<rect x="1213" y="555" width="1" height="12" fill="#000"/>
<rect x="1211" y="562" width="5" height="3" fill="#000"/>
<rect x="1221" y="459" width="1" height="104" fill="#000"/>
<rect x="1219" y="488" width="5" height="75" fill="#000"/>
<rect x="1220" y="489" width="3" height="73" fill="#fff"/>
<rect x="1229" y="482" width="1" height="33" fill="#000"/>
<rect x="1227" y="488" width="5" height="16" fill="#000"/>
<rect x="1237" y="471" width="1" height="40" fill="#000"/>
<rect x="1235" y="481" width="5" height="23" fill="#000"/>
<rect x="1236" y="482" width="3" height="21" fill="#fff"/>
<rect x="1245" y="440" width="1" height="59" fill="#000"/>
<rect x="1243" y="456" width="5" height="26" fill="#000"/>
<rect x="1244" y="457" width="3" height="24" fill="#fff"/>
<rect x="1253" y="450" width="1" height="30" fill="#000"/>
<rect x="1251" y="455" width="5" height="15" fill="#000"/>
<rect x="1261" y="476" width="1" height="5" fill="#000"/>
<rect x="1259" y="477" width="5" height="2" fill="#000"/>
<rect x="1269" y="459" width="1" height="25" fill="#000"/>
<rect x="1267" y="473" width="5" height="5" fill="#000"/>
<rect x="1268" y="474" width="3" height="3" fill="#fff"/>
<rect x="1277" y="460" width="1" height="45" fill="#000"/>
<rect x="1275" y="473" width="5" height="24" fill="#000"/>
<rect x="1285" y="456" width="1" height="43" fill="#000"/>
<rect x="1283" y="464" width="5" height="33" fill="#000"/>
<rect x="1284" y="465" width="3" height="31" fill="#fff"/>
<rect x="1293" y="403" width="1" height="62" fill="#000"/>
<rect x="1291" y="414" width="5" height="51" fill="#000"/>
<rect x="1292" y="415" width="3" height="49" fill="#fff"/>
<rect x="1301" y="412" width="1" height="33" fill="#000"/>
<rect x="1299" y="414" width="5" height="13" fill="#000"/>
<rect x="1309" y="421" width="1" height="6" fill="#000"/>
<rect x="1307" y="422" width="5" height="5" fill="#000"/>
<rect x="1308" y="423" width="3" height="3" fill="#fff"/>
<rect x="1317" y="394" width="1" height="42" fill="#000"/>
<rect x="1315" y="396" width="5" height="28" fill="#000"/>
<rect x="1316" y="397" width="3" height="26" fill="#fff"/>
<rect x="1325" y="377" width="1" height="30" fill="#000"/>
<rect x="1323" y="378" width="5" height="20" fill="#000"/>
<rect x="1324" y="379" width="3" height="18" fill="#fff"/>
<rect x="1333" y="348" width="1" height="35" fill="#000"/>
<rect x="1331" y="350" width="5" height="31" fill="#000"/>
<rect x="1332" y="351" width="3" height="29" fill="#fff"/>
<rect x="1341" y="338" width="1" height="47" fill="#000"/>
<rect x="1339" y="339" width="5" height="13" fill="#000"/>
<rect x="1340" y="340" width="3" height="11" fill="#fff"/>
<rect x="1349" y="334" width="1" height="25" fill="#000"/>
<rect x="1347" y="340" width="5" height="3" fill="#000"/>
<rect x="-3" y="294" width="4" height="4" fill="#fff" stroke="#ff0000" stroke-width="2"/>
<rect x="1620" y="294" width="4" height="4" fill="#fff" stroke="#ff0000" stroke-width="2"/>
<rect x="-3" y="316" width="4" height="4" fill="#fff" stroke="#ff0000" stroke-width="2"/>
<rect x="1620" y="316" width="4" height="4" fill="#fff" stroke="#ff0000" stroke-width="2"/>
<rect x="-3" y="372" width="4" height="4" fill="#fff" stroke="#0000ff" stroke-width="2"/>
<rect x="1620" y="372" width="4" height="4" fill="#fff" stroke="#0000ff" stroke-width="2"/>
<rect x="-3" y="389" width="4" height="4" fill="#fff" stroke="#0000ff" stroke-width="2"/>
<rect x="1620" y="389" width="4" height="4" fill="#fff" stroke="#0000ff" stroke-width="2"/>
<rect x="1316" y="352" width="51" height="10" fill="#00ff00"/>
<rect x="1446" y="356" width="6" height="1" fill="#ff0000"/>
<rect x="1451.5" y="354.5" width="3" height="3" fill="#fff" stroke="#ff0000" stroke-width="1"/>
<rect x="1456.5" y="341.5" width="99" height="32" fill="#fff" stroke="#ff0000" stroke-width="1"/>
<text x="1458" y="368" font-family="'Liberation Sans', Arial, sans-serif" font-size="27.5" fill="#ff0000" letter-spacing="-0.3">107.911</text>
<text x="1384" y="427.8" font-family="'Liberation Serif', 'Noto Serif CJK SC', 'Noto Sans CJK SC', serif" font-weight="600" font-size="31" letter-spacing="1.7" fill="#000" >多空转折点</text>
<text x="1383" y="426.8" font-family="'Liberation Serif', 'Noto Serif CJK SC', 'Noto Sans CJK SC', serif" font-weight="600" font-size="31" letter-spacing="1.7" fill="#00ff00" >多空转折点</text>
</g>
<g clip-path="url(#cd)">
<rect x="5" y="615" width="1" height="44" fill="#c0c0c0"/>
<rect x="13" y="605" width="1" height="54" fill="#c0c0c0"/>
<rect x="21" y="598" width="1" height="61" fill="#c0c0c0"/>
<rect x="29" y="595" width="1" height="64" fill="#c0c0c0"/>
<rect x="37" y="595" width="1" height="64" fill="#c0c0c0"/>
<rect x="45" y="595" width="1" height="64" fill="#c0c0c0"/>
<rect x="53" y="596" width="1" height="63" fill="#c0c0c0"/>
<rect x="61" y="604" width="1" height="55" fill="#c0c0c0"/>
<rect x="69" y="611" width="1" height="48" fill="#c0c0c0"/>
<rect x="77" y="614" width="1" height="45" fill="#c0c0c0"/>
<rect x="85" y="618" width="1" height="41" fill="#c0c0c0"/>
<rect x="93" y="622" width="1" height="37" fill="#c0c0c0"/>
<rect x="101" y="620" width="1" height="39" fill="#c0c0c0"/>
<rect x="109" y="621" width="1" height="38" fill="#c0c0c0"/>
<rect x="117" y="622" width="1" height="37" fill="#c0c0c0"/>
<rect x="125" y="625" width="1" height="34" fill="#c0c0c0"/>
<rect x="133" y="628" width="1" height="31" fill="#c0c0c0"/>
<rect x="141" y="638" width="1" height="21" fill="#c0c0c0"/>
<rect x="149" y="645" width="1" height="14" fill="#c0c0c0"/>
<rect x="157" y="658" width="1" height="1" fill="#c0c0c0"/>
<rect x="165" y="658" width="1" height="11" fill="#c0c0c0"/>
<rect x="173" y="658" width="1" height="19" fill="#c0c0c0"/>
<rect x="181" y="658" width="1" height="19" fill="#c0c0c0"/>
<rect x="189" y="658" width="1" height="21" fill="#c0c0c0"/>
<rect x="197" y="658" width="1" height="19" fill="#c0c0c0"/>
<rect x="205" y="658" width="1" height="18" fill="#c0c0c0"/>
<rect x="213" y="658" width="1" height="5" fill="#c0c0c0"/>
<rect x="221" y="658" width="1" height="3" fill="#c0c0c0"/>
<rect x="229" y="658" width="1" height="1" fill="#c0c0c0"/>
<rect x="237" y="653" width="1" height="6" fill="#c0c0c0"/>
<rect x="245" y="646" width="1" height="13" fill="#c0c0c0"/>
<rect x="253" y="641" width="1" height="18" fill="#c0c0c0"/>
<rect x="261" y="636" width="1" height="23" fill="#c0c0c0"/>
<rect x="269" y="636" width="1" height="23" fill="#c0c0c0"/>
<rect x="277" y="640" width="1" height="19" fill="#c0c0c0"/>
<rect x="285" y="646" width="1" height="13" fill="#c0c0c0"/>
<rect x="293" y="641" width="1" height="18" fill="#c0c0c0"/>
<rect x="301" y="634" width="1" height="25" fill="#c0c0c0"/>
<rect x="309" y="629" width="1" height="30" fill="#c0c0c0"/>
<rect x="317" y="626" width="1" height="33" fill="#c0c0c0"/>
<rect x="325" y="624" width="1" height="35" fill="#c0c0c0"/>
<rect x="333" y="623" width="1" height="36" fill="#c0c0c0"/>
<rect x="341" y="623" width="1" height="36" fill="#c0c0c0"/>
<rect x="349" y="623" width="1" height="36" fill="#c0c0c0"/>
<rect x="357" y="624" width="1" height="35" fill="#c0c0c0"/>
<rect x="365" y="625" width="1" height="34" fill="#c0c0c0"/>
<rect x="373" y="625" width="1" height="34" fill="#c0c0c0"/>
<rect x="381" y="631" width="1" height="28" fill="#c0c0c0"/>
<rect x="389" y="635" width="1" height="24" fill="#c0c0c0"/>
<rect x="397" y="639" width="1" height="20" fill="#c0c0c0"/>
<rect x="405" y="641" width="1" height="18" fill="#c0c0c0"/>
<rect x="413" y="646" width="1" height="13" fill="#c0c0c0"/>
<rect x="421" y="650" width="1" height="9" fill="#c0c0c0"/>
<rect x="429" y="652" width="1" height="7" fill="#c0c0c0"/>
<rect x="437" y="658" width="1" height="1" fill="#c0c0c0"/>
<rect x="445" y="658" width="1" height="10" fill="#c0c0c0"/>
<rect x="453" y="658" width="1" height="16" fill="#c0c0c0"/>
<rect x="461" y="658" width="1" height="26" fill="#c0c0c0"/>
<rect x="469" y="658" width="1" height="37" fill="#c0c0c0"/>
<rect x="477" y="658" width="1" height="46" fill="#c0c0c0"/>
<rect x="485" y="658" width="1" height="53" fill="#c0c0c0"/>
<rect x="493" y="658" width="1" height="60" fill="#c0c0c0"/>
<rect x="501" y="658" width="1" height="70" fill="#c0c0c0"/>
<rect x="509" y="658" width="1" height="72" fill="#c0c0c0"/>
<rect x="517" y="658" width="1" height="75" fill="#c0c0c0"/>
<rect x="525" y="658" width="1" height="71" fill="#c0c0c0"/>
<rect x="533" y="658" width="1" height="66" fill="#c0c0c0"/>
<rect x="541" y="658" width="1" height="60" fill="#c0c0c0"/>
<rect x="549" y="658" width="1" height="55" fill="#c0c0c0"/>
<rect x="557" y="658" width="1" height="46" fill="#c0c0c0"/>
<rect x="565" y="658" width="1" height="42" fill="#c0c0c0"/>
<rect x="573" y="658" width="1" height="46" fill="#c0c0c0"/>
<rect x="581" y="658" width="1" height="50" fill="#c0c0c0"/>
<rect x="589" y="658" width="1" height="52" fill="#c0c0c0"/>
<rect x="597" y="658" width="1" height="51" fill="#c0c0c0"/>
<rect x="605" y="658" width="1" height="54" fill="#c0c0c0"/>
<rect x="613" y="658" width="1" height="52" fill="#c0c0c0"/>
<rect x="621" y="658" width="1" height="52" fill="#c0c0c0"/>
<rect x="629" y="658" width="1" height="62" fill="#c0c0c0"/>
<rect x="637" y="658" width="1" height="71" fill="#c0c0c0"/>
<rect x="645" y="658" width="1" height="79" fill="#c0c0c0"/>
<rect x="653" y="658" width="1" height="83" fill="#c0c0c0"/>
<rect x="661" y="658" width="1" height="83" fill="#c0c0c0"/>
<rect x="669" y="658" width="1" height="81" fill="#c0c0c0"/>
<rect x="677" y="658" width="1" height="83" fill="#c0c0c0"/>
<rect x="685" y="658" width="1" height="78" fill="#c0c0c0"/>
<rect x="693" y="658" width="1" height="76" fill="#c0c0c0"/>
<rect x="701" y="658" width="1" height="73" fill="#c0c0c0"/>
<rect x="709" y="658" width="1" height="69" fill="#c0c0c0"/>
<rect x="717" y="658" width="1" height="66" fill="#c0c0c0"/>
<rect x="725" y="658" width="1" height="61" fill="#c0c0c0"/>
<rect x="733" y="658" width="1" height="56" fill="#c0c0c0"/>
<rect x="741" y="658" width="1" height="52" fill="#c0c0c0"/>
<rect x="749" y="658" width="1" height="47" fill="#c0c0c0"/>
<rect x="757" y="658" width="1" height="49" fill="#c0c0c0"/>
<rect x="765" y="658" width="1" height="59" fill="#c0c0c0"/>
<rect x="773" y="658" width="1" height="64" fill="#c0c0c0"/>
<rect x="781" y="658" width="1" height="69" fill="#c0c0c0"/>
<rect x="789" y="658" width="1" height="70" fill="#c0c0c0"/>
<rect x="797" y="658" width="1" height="74" fill="#c0c0c0"/>
<rect x="805" y="658" width="1" height="70" fill="#c0c0c0"/>
<rect x="813" y="658" width="1" height="64" fill="#c0c0c0"/>
<rect x="821" y="658" width="1" height="60" fill="#c0c0c0"/>
<rect x="829" y="658" width="1" height="50" fill="#c0c0c0"/>
<rect x="837" y="658" width="1" height="41" fill="#c0c0c0"/>
<rect x="845" y="658" width="1" height="39" fill="#c0c0c0"/>
<rect x="853" y="658" width="1" height="38" fill="#c0c0c0"/>
<rect x="861" y="658" width="1" height="36" fill="#c0c0c0"/>
<rect x="869" y="658" width="1" height="27" fill="#c0c0c0"/>
<rect x="877" y="658" width="1" height="19" fill="#c0c0c0"/>
<rect x="885" y="658" width="1" height="11" fill="#c0c0c0"/>
<rect x="893" y="658" width="1" height="1" fill="#c0c0c0"/>
<rect x="901" y="658" width="1" height="1" fill="#c0c0c0"/>
<rect x="909" y="656" width="1" height="3" fill="#c0c0c0"/>
<rect x="917" y="658" width="1" height="3" fill="#c0c0c0"/>
<rect x="925" y="658" width="1" height="8" fill="#c0c0c0"/>
<rect x="933" y="658" width="1" height="10" fill="#c0c0c0"/>
<rect x="941" y="658" width="1" height="10" fill="#c0c0c0"/>
<rect x="949" y="658" width="1" height="11" fill="#c0c0c0"/>
<rect x="957" y="658" width="1" height="19" fill="#c0c0c0"/>
<rect x="965" y="658" width="1" height="20" fill="#c0c0c0"/>
<rect x="973" y="658" width="1" height="20" fill="#c0c0c0"/>
<rect x="981" y="658" width="1" height="19" fill="#c0c0c0"/>
<rect x="989" y="658" width="1" height="15" fill="#c0c0c0"/>
<rect x="997" y="658" width="1" height="11" fill="#c0c0c0"/>
<rect x="1005" y="658" width="1" height="3" fill="#c0c0c0"/>
<rect x="1013" y="655" width="1" height="4" fill="#c0c0c0"/>
<rect x="1021" y="651" width="1" height="8" fill="#c0c0c0"/>
<rect x="1029" y="645" width="1" height="14" fill="#c0c0c0"/>
<rect x="1037" y="644" width="1" height="15" fill="#c0c0c0"/>
<rect x="1045" y="641" width="1" height="18" fill="#c0c0c0"/>
<rect x="1053" y="654" width="1" height="5" fill="#c0c0c0"/>
<rect x="1061" y="658" width="1" height="13" fill="#c0c0c0"/>
<rect x="1069" y="658" width="1" height="29" fill="#c0c0c0"/>
<rect x="1077" y="658" width="1" height="51" fill="#c0c0c0"/>
<rect x="1085" y="658" width="1" height="60" fill="#c0c0c0"/>
<rect x="1093" y="658" width="1" height="67" fill="#c0c0c0"/>
<rect x="1101" y="658" width="1" height="77" fill="#c0c0c0"/>
<rect x="1109" y="658" width="1" height="86" fill="#c0c0c0"/>
<rect x="1117" y="658" width="1" height="94" fill="#c0c0c0"/>
<rect x="1125" y="658" width="1" height="98" fill="#c0c0c0"/>
<rect x="1133" y="658" width="1" height="89" fill="#c0c0c0"/>
<rect x="1141" y="658" width="1" height="88" fill="#c0c0c0"/>
<rect x="1149" y="658" width="1" height="84" fill="#c0c0c0"/>
<rect x="1157" y="658" width="1" height="77" fill="#c0c0c0"/>
<rect x="1165" y="658" width="1" height="70" fill="#c0c0c0"/>
<rect x="1173" y="658" width="1" height="62" fill="#c0c0c0"/>
<rect x="1181" y="658" width="1" height="57" fill="#c0c0c0"/>
<rect x="1189" y="658" width="1" height="51" fill="#c0c0c0"/>
<rect x="1197" y="658" width="1" height="46" fill="#c0c0c0"/>
<rect x="1205" y="658" width="1" height="55" fill="#c0c0c0"/>
<rect x="1213" y="658" width="1" height="66" fill="#c0c0c0"/>
<rect x="1221" y="658" width="1" height="61" fill="#c0c0c0"/>
<rect x="1229" y="658" width="1" height="59" fill="#c0c0c0"/>
<rect x="1237" y="658" width="1" height="53" fill="#c0c0c0"/>
<rect x="1245" y="658" width="1" height="45" fill="#c0c0c0"/>
<rect x="1253" y="658" width="1" height="39" fill="#c0c0c0"/>
<rect x="1261" y="658" width="1" height="36" fill="#c0c0c0"/>
<rect x="1269" y="658" width="1" height="33" fill="#c0c0c0"/>
<rect x="1277" y="658" width="1" height="33" fill="#c0c0c0"/>
<rect x="1285" y="658" width="1" height="27" fill="#c0c0c0"/>
<rect x="1293" y="658" width="1" height="15" fill="#c0c0c0"/>
<rect x="1301" y="658" width="1" height="6" fill="#c0c0c0"/>
<rect x="1309" y="658" width="1" height="1" fill="#c0c0c0"/>
<rect x="1317" y="649" width="1" height="10" fill="#c0c0c0"/>
<rect x="1325" y="639" width="1" height="20" fill="#c0c0c0"/>
<rect x="1333" y="626" width="1" height="33" fill="#c0c0c0"/>
<rect x="1341" y="615" width="1" height="44" fill="#c0c0c0"/>
<rect x="1349" y="608" width="1" height="51" fill="#c0c0c0"/>
<polyline points="-3.5,622.0 5.5,619.0 13.5,615.9 21.5,614.7 29.5,611.8 37.5,609.9 45.5,607.5 53.5,605.6 61.5,603.9 69.5,602.2 77.5,602.1 85.5,603.5 93.5,606.1 101.5,608.8 109.5,611.7 117.5,614.7 125.5,617.9 133.5,620.5 141.5,623.4 149.5,626.9 157.5,631.3 165.5,636.5 173.5,642.7 181.5,648.8 189.5,655.0 197.5,660.7 205.5,665.9 213.5,668.6 221.5,670.3 229.5,670.3 237.5,668.6 245.5,665.3 253.5,661.4 261.5,656.8 269.5,652.3 277.5,648.4 285.5,646.6 293.5,644.5 301.5,641.8 309.5,639.1 317.5,636.9 325.5,635.1 333.5,633.6 341.5,632.2 349.5,630.3 357.5,627.9 365.5,626.1 373.5,625.1 381.5,625.3 389.5,626.3 397.5,628.0 405.5,630.0 413.5,632.5 421.5,635.6 429.5,638.7 437.5,642.4 445.5,647.0 453.5,651.7 461.5,657.1 469.5,663.1 477.5,670.1 485.5,677.2 493.5,684.6 501.5,692.9 509.5,700.7 517.5,708.0 525.5,714.1 533.5,718.5 541.5,721.1 549.5,722.1 557.5,721.3 565.5,719.2 573.5,716.6 581.5,714.2 589.5,711.6 597.5,709.5 605.5,708.1 613.5,707.3 621.5,707.0 629.5,708.8 637.5,712.0 645.5,715.6 653.5,719.2 661.5,722.6 669.5,725.9 677.5,729.1 685.5,732.0 693.5,734.7 701.5,735.9 709.5,735.7 717.5,734.2 725.5,731.8 733.5,728.8 741.5,725.5 749.5,721.6 757.5,718.3 765.5,716.3 773.5,715.4 781.5,715.4 789.5,715.8 797.5,717.3 805.5,718.9 813.5,720.2 821.5,721.6 829.5,721.8 837.5,719.8 845.5,717.0 853.5,713.6 861.5,709.9 869.5,704.6 877.5,698.9 885.5,693.1 893.5,686.6 901.5,681.2 909.5,676.5 917.5,672.6 925.5,669.3 933.5,666.3 941.5,664.5 949.5,663.6 957.5,664.5 965.5,666.5 973.5,668.5 981.5,670.7 989.5,672.0 997.5,672.3 1005.5,671.6 1013.5,670.3 1021.5,668.4 1029.5,665.0 1037.5,661.3 1045.5,657.4 1053.5,655.0 1061.5,654.8 1069.5,656.7 1077.5,662.0 1085.5,668.9 1093.5,677.0 1101.5,686.9 1109.5,697.9 1117.5,710.1 1125.5,721.4 1133.5,729.7 1141.5,736.3 1149.5,740.0 1157.5,741.9 1165.5,742.2 1173.5,740.5 1181.5,737.3 1189.5,732.5 1197.5,726.6 1205.5,722.8 1213.5,720.4 1221.5,717.8 1229.5,715.9 1237.5,714.1 1245.5,712.1 1253.5,710.2 1261.5,708.5 1269.5,707.1 1277.5,704.7 1285.5,700.5 1293.5,695.4 1301.5,689.5 1309.5,683.7 1317.5,677.9 1325.5,671.5 1333.5,664.1 1341.5,655.8 1349.5,646.7" fill="none" stroke="#ff0000" stroke-width="1" stroke-dasharray="3 3"/>
</g>
<g clip-path="url(#cr)">
<line x1="0" y1="800.5" x2="1625" y2="800.5" stroke="#c0c0c0" stroke-width="1" stroke-dasharray="3 3"/>
<line x1="0" y1="847.5" x2="1625" y2="847.5" stroke="#c0c0c0" stroke-width="1" stroke-dasharray="3 3"/>
<line x1="0" y1="903.5" x2="1625" y2="903.5" stroke="#c0c0c0" stroke-width="1" stroke-dasharray="3 3"/>
<polyline points="-3.5,828.8 5.5,824.1 13.5,813.6 21.5,815.7 29.5,820.6 37.5,819.9 45.5,827.5 53.5,827.9 61.5,843.6 69.5,843.6 77.5,837.9 85.5,838.8 93.5,841.7 101.5,830.0 109.5,837.7 117.5,836.0 125.5,841.5 133.5,840.9 141.5,859.7 149.5,855.9 157.5,869.5 165.5,868.7 173.5,869.5 181.5,855.9 189.5,857.0 197.5,853.0 205.5,848.2 213.5,844.6 221.5,834.2 229.5,837.7 237.5,835.2 245.5,830.8 253.5,829.8 261.5,829.8 269.5,837.7 277.5,848.2 285.5,851.7 293.5,836.3 301.5,827.9 309.5,828.9 317.5,832.1 325.5,831.0 333.5,830.0 341.5,832.9 349.5,833.7 357.5,833.7 365.5,836.0 373.5,828.7 381.5,849.7 389.5,847.8 397.5,847.8 405.5,844.6 413.5,854.9 421.5,852.8 429.5,850.7 437.5,861.8 445.5,873.7 453.5,868.1 461.5,877.5 469.5,881.3 477.5,885.2 485.5,881.7 493.5,885.2 501.5,891.7 509.5,873.9 517.5,876.9 525.5,863.9 533.5,859.1 541.5,857.6 549.5,859.1 557.5,846.7 565.5,854.5 573.5,866.6 581.5,869.7 589.5,868.1 597.5,864.9 605.5,868.1 613.5,862.2 621.5,867.5 629.5,879.6 637.5,881.7 645.5,884.8 653.5,877.5 661.5,875.4 669.5,871.8 677.5,876.9 685.5,867.7 693.5,869.5 701.5,866.0 709.5,864.9 717.5,868.5 725.5,860.7 733.5,860.7 741.5,860.7 749.5,859.7 757.5,870.2 765.5,884.8 773.5,880.6 781.5,881.7 789.5,880.6 797.5,883.8 805.5,863.5 813.5,863.5 821.5,862.4 829.5,845.7 837.5,845.7 845.5,858.7 853.5,859.7 861.5,858.7 869.5,839.8 877.5,841.9 885.5,836.7 893.5,832.9 901.5,847.6 909.5,843.0 917.5,857.6 925.5,857.6 933.5,855.9 941.5,848.8 949.5,853.4 957.5,863.5 965.5,855.9 973.5,854.9 981.5,852.8 989.5,844.6 997.5,845.7 1005.5,837.1 1013.5,836.0 1021.5,837.7 1029.5,832.9 1037.5,840.5 1045.5,836.0 1053.5,862.8 1061.5,874.8 1069.5,874.8 1077.5,883.8 1085.5,869.7 1093.5,871.8 1101.5,874.8 1109.5,878.1 1117.5,879.6 1125.5,879.6 1133.5,855.1 1141.5,863.9 1149.5,861.4 1157.5,858.7 1165.5,855.5 1173.5,853.0 1181.5,856.6 1189.5,850.9 1197.5,852.4 1205.5,868.1 1213.5,873.3 1221.5,855.1 1229.5,857.6 1237.5,853.4 1245.5,848.2 1253.5,849.9 1261.5,851.3 1269.5,850.9 1277.5,856.6 1285.5,847.6 1293.5,838.1 1301.5,840.9 1309.5,839.4 1317.5,834.6 1325.5,830.4 1333.5,825.8 1341.5,823.7 1349.5,825.2" fill="none" stroke="#1e90ff" stroke-width="1"/>
</g>
<rect x="0" y="27" width="1626" height="1" fill="#000"/>
<rect x="1625" y="27" width="1" height="554" fill="#000"/>
<rect x="0" y="580" width="1626" height="1" fill="#000"/>
<rect x="0" y="582" width="1626" height="1" fill="#000"/>
<rect x="1625" y="582" width="1" height="184" fill="#000"/>
<rect x="0" y="765" width="1626" height="1" fill="#000"/>
<rect x="0" y="767" width="1626" height="1" fill="#000"/>
<rect x="1625" y="767" width="1" height="161" fill="#000"/>
<rect x="0" y="927" width="1626" height="1" fill="#000"/>
<rect x="1671" y="25" width="1" height="921" fill="#dcdcdc"/>
<rect x="1626" y="49" width="3" height="1" fill="#000"/>
<text transform="translate(1631.2,53) scale(0.935,1)" font-family="'Liberation Sans', Arial, sans-serif" font-size="10" fill="#000" stroke="#000" stroke-width="0.15">112.470</text>
<rect x="1626" y="82" width="3" height="1" fill="#000"/>
<text transform="translate(1631.2,86) scale(0.935,1)" font-family="'Liberation Sans', Arial, sans-serif" font-size="10" fill="#000" stroke="#000" stroke-width="0.15">111.980</text>
<rect x="1626" y="115" width="3" height="1" fill="#000"/>
<text transform="translate(1631.2,119) scale(0.935,1)" font-family="'Liberation Sans', Arial, sans-serif" font-size="10" fill="#000" stroke="#000" stroke-width="0.15">111.490</text>
<rect x="1626" y="148" width="3" height="1" fill="#000"/>
<text transform="translate(1631.2,152) scale(0.935,1)" font-family="'Liberation Sans', Arial, sans-serif" font-size="10" fill="#000" stroke="#000" stroke-width="0.15">111.010</text>
<rect x="1626" y="181" width="3" height="1" fill="#000"/>
<text transform="translate(1631.2,185) scale(0.935,1)" font-family="'Liberation Sans', Arial, sans-serif" font-size="10" fill="#000" stroke="#000" stroke-width="0.15">110.520</text>
<rect x="1626" y="214" width="3" height="1" fill="#000"/>
<text transform="translate(1631.2,218) scale(0.935,1)" font-family="'Liberation Sans', Arial, sans-serif" font-size="10" fill="#000" stroke="#000" stroke-width="0.15">110.030</text>
<rect x="1626" y="247" width="3" height="1" fill="#000"/>
<text transform="translate(1631.2,251) scale(0.935,1)" font-family="'Liberation Sans', Arial, sans-serif" font-size="10" fill="#000" stroke="#000" stroke-width="0.15">109.540</text>
<rect x="1626" y="280" width="3" height="1" fill="#000"/>
<text transform="translate(1631.2,284) scale(0.935,1)" font-family="'Liberation Sans', Arial, sans-serif" font-size="10" fill="#000" stroke="#000" stroke-width="0.15">109.050</text>
<rect x="1626" y="313" width="3" height="1" fill="#000"/>
<text transform="translate(1631.2,317) scale(0.935,1)" font-family="'Liberation Sans', Arial, sans-serif" font-size="10" fill="#000" stroke="#000" stroke-width="0.15">108.560</text>
<rect x="1626" y="346" width="3" height="1" fill="#000"/>
<text transform="translate(1631.2,350) scale(0.935,1)" font-family="'Liberation Sans', Arial, sans-serif" font-size="10" fill="#000" stroke="#000" stroke-width="0.15">108.070</text>
<rect x="1626" y="379" width="3" height="1" fill="#000"/>
<text transform="translate(1631.2,383) scale(0.935,1)" font-family="'Liberation Sans', Arial, sans-serif" font-size="10" fill="#000" stroke="#000" stroke-width="0.15">107.580</text>
<rect x="1626" y="412" width="3" height="1" fill="#000"/>
<text transform="translate(1631.2,416) scale(0.935,1)" font-family="'Liberation Sans', Arial, sans-serif" font-size="10" fill="#000" stroke="#000" stroke-width="0.15">107.090</text>
<rect x="1626" y="445" width="3" height="1" fill="#000"/>
<text transform="translate(1631.2,449) scale(0.935,1)" font-family="'Liberation Sans', Arial, sans-serif" font-size="10" fill="#000" stroke="#000" stroke-width="0.15">106.600</text>
<rect x="1626" y="478" width="3" height="1" fill="#000"/>
<text transform="translate(1631.2,482) scale(0.935,1)" font-family="'Liberation Sans', Arial, sans-serif" font-size="10" fill="#000" stroke="#000" stroke-width="0.15">106.110</text>
<rect x="1626" y="511" width="3" height="1" fill="#000"/>
<text transform="translate(1631.2,515) scale(0.935,1)" font-family="'Liberation Sans', Arial, sans-serif" font-size="10" fill="#000" stroke="#000" stroke-width="0.15">105.620</text>
<rect x="1626" y="544" width="3" height="1" fill="#000"/>
<text transform="translate(1631.2,548) scale(0.935,1)" font-family="'Liberation Sans', Arial, sans-serif" font-size="10" fill="#000" stroke="#000" stroke-width="0.15">105.130</text>
<rect x="1626" y="577" width="3" height="1" fill="#000"/>
<text transform="translate(1631.2,581) scale(0.935,1)" font-family="'Liberation Sans', Arial, sans-serif" font-size="10" fill="#000" stroke="#000" stroke-width="0.15">104.640</text>
<rect x="1627" y="290" width="41" height="11" fill="#ff0000"/>
<text transform="translate(1631,299) scale(0.935,1)" font-family="'Liberation Sans', Arial, sans-serif" font-size="10" fill="#fff" stroke="#fff" stroke-width="0.15">108.813</text>
<rect x="1627" y="312" width="41" height="11" fill="#ff0000"/>
<text transform="translate(1631,321) scale(0.935,1)" font-family="'Liberation Sans', Arial, sans-serif" font-size="10" fill="#fff" stroke="#fff" stroke-width="0.15">108.488</text>
<rect x="1627" y="337" width="41" height="11" fill="#000000"/>
<text transform="translate(1631,346) scale(0.935,1)" font-family="'Liberation Sans', Arial, sans-serif" font-size="10" fill="#fff" stroke="#fff" stroke-width="0.15">108.130</text>
<rect x="1627" y="351" width="41" height="11" fill="#32cd32"/>
<text transform="translate(1631,360) scale(0.935,1)" font-family="'Liberation Sans', Arial, sans-serif" font-size="10" fill="#fff" stroke="#fff" stroke-width="0.15">107.911</text>
<rect x="1627" y="368" width="41" height="11" fill="#0000ff"/>
<text transform="translate(1631,377) scale(0.935,1)" font-family="'Liberation Sans', Arial, sans-serif" font-size="10" fill="#fff" stroke="#fff" stroke-width="0.15">107.659</text>
<rect x="1627" y="385" width="41" height="11" fill="#0000ff"/>
<text transform="translate(1631,394) scale(0.935,1)" font-family="'Liberation Sans', Arial, sans-serif" font-size="10" fill="#fff" stroke="#fff" stroke-width="0.15">107.407</text>
<rect x="1626" y="583" width="3" height="1" fill="#000"/>
<text transform="translate(1628.5,593) scale(0.935,1)" font-family="'Liberation Sans', Arial, sans-serif" font-size="10" fill="#000" stroke="#000" stroke-width="0.15">0.5499</text>
<rect x="1626" y="658" width="3" height="1" fill="#000"/>
<text transform="translate(1628.5,663) scale(0.935,1)" font-family="'Liberation Sans', Arial, sans-serif" font-size="10" fill="#000" stroke="#000" stroke-width="0.15">0.00</text>
<rect x="1626" y="764" width="3" height="1" fill="#000"/>
<text transform="translate(1628,762) scale(0.935,1)" font-family="'Liberation Sans', Arial, sans-serif" font-size="10" fill="#000" stroke="#000" stroke-width="0.15">-0.7829</text>
<rect x="1626" y="768" width="2" height="1" fill="#000"/>
<rect x="1626" y="926" width="2" height="1" fill="#000"/>
<text transform="translate(1628.5,778) scale(0.935,1)" font-family="'Liberation Sans', Arial, sans-serif" font-size="10" fill="#000" stroke="#000" stroke-width="0.15">100</text>
<text transform="translate(1628.5,804) scale(0.935,1)" font-family="'Liberation Sans', Arial, sans-serif" font-size="10" fill="#000" stroke="#000" stroke-width="0.15">80</text>
<text transform="translate(1628.5,851.5) scale(0.935,1)" font-family="'Liberation Sans', Arial, sans-serif" font-size="10" fill="#000" stroke="#000" stroke-width="0.15">50</text>
<text transform="translate(1628.5,907.5) scale(0.935,1)" font-family="'Liberation Sans', Arial, sans-serif" font-size="10" fill="#000" stroke="#000" stroke-width="0.15">15</text>
<text transform="translate(1628.5,924) scale(0.935,1)" font-family="'Liberation Sans', Arial, sans-serif" font-size="10" fill="#000" stroke="#000" stroke-width="0.15">0</text>
<text transform="translate(-3.5,940) scale(0.935,1)" font-family="'Liberation Sans', Arial, sans-serif" font-size="10" fill="#000" stroke="#000" stroke-width="0.15">27 Feb 2019</text>
<rect x="61" y="928" width="1" height="3" fill="#000"/>
<text transform="translate(60.5,940) scale(0.935,1)" font-family="'Liberation Sans', Arial, sans-serif" font-size="10" fill="#000" stroke="#000" stroke-width="0.15">8 Mar 2019</text>
<rect x="125" y="928" width="1" height="3" fill="#000"/>
<text transform="translate(124.5,940) scale(0.935,1)" font-family="'Liberation Sans', Arial, sans-serif" font-size="10" fill="#000" stroke="#000" stroke-width="0.15">18 Mar 2019</text>
<rect x="189" y="928" width="1" height="3" fill="#000"/>
<text transform="translate(188.5,940) scale(0.935,1)" font-family="'Liberation Sans', Arial, sans-serif" font-size="10" fill="#000" stroke="#000" stroke-width="0.15">27 Mar 2019</text>
<rect x="253" y="928" width="1" height="3" fill="#000"/>
<text transform="translate(252.5,940) scale(0.935,1)" font-family="'Liberation Sans', Arial, sans-serif" font-size="10" fill="#000" stroke="#000" stroke-width="0.15">5 Apr 2019</text>
<rect x="317" y="928" width="1" height="3" fill="#000"/>
<text transform="translate(316.5,940) scale(0.935,1)" font-family="'Liberation Sans', Arial, sans-serif" font-size="10" fill="#000" stroke="#000" stroke-width="0.15">15 Apr 2019</text>
<rect x="381" y="928" width="1" height="3" fill="#000"/>
<text transform="translate(380.5,940) scale(0.935,1)" font-family="'Liberation Sans', Arial, sans-serif" font-size="10" fill="#000" stroke="#000" stroke-width="0.15">25 Apr 2019</text>
<rect x="445" y="928" width="1" height="3" fill="#000"/>
<text transform="translate(444.5,940) scale(0.935,1)" font-family="'Liberation Sans', Arial, sans-serif" font-size="10" fill="#000" stroke="#000" stroke-width="0.15">5 May 2019</text>
<rect x="509" y="928" width="1" height="3" fill="#000"/>
<text transform="translate(508.5,940) scale(0.935,1)" font-family="'Liberation Sans', Arial, sans-serif" font-size="10" fill="#000" stroke="#000" stroke-width="0.15">14 May 2019</text>
<rect x="573" y="928" width="1" height="3" fill="#000"/>
<text transform="translate(572.5,940) scale(0.935,1)" font-family="'Liberation Sans', Arial, sans-serif" font-size="10" fill="#000" stroke="#000" stroke-width="0.15">23 May 2019</text>
<rect x="637" y="928" width="1" height="3" fill="#000"/>
<text transform="translate(636.5,940) scale(0.935,1)" font-family="'Liberation Sans', Arial, sans-serif" font-size="10" fill="#000" stroke="#000" stroke-width="0.15">2 Jun 2019</text>
<rect x="701" y="928" width="1" height="3" fill="#000"/>
<text transform="translate(700.5,940) scale(0.935,1)" font-family="'Liberation Sans', Arial, sans-serif" font-size="10" fill="#000" stroke="#000" stroke-width="0.15">11 Jun 2019</text>
<rect x="765" y="928" width="1" height="3" fill="#000"/>
<text transform="translate(764.5,940) scale(0.935,1)" font-family="'Liberation Sans', Arial, sans-serif" font-size="10" fill="#000" stroke="#000" stroke-width="0.15">20 Jun 2019</text>
<rect x="829" y="928" width="1" height="3" fill="#000"/>
<text transform="translate(828.5,940) scale(0.935,1)" font-family="'Liberation Sans', Arial, sans-serif" font-size="10" fill="#000" stroke="#000" stroke-width="0.15">30 Jun 2019</text>
<rect x="893" y="928" width="1" height="3" fill="#000"/>
<text transform="translate(892.5,940) scale(0.935,1)" font-family="'Liberation Sans', Arial, sans-serif" font-size="10" fill="#000" stroke="#000" stroke-width="0.15">9 Jul 2019</text>
<rect x="957" y="928" width="1" height="3" fill="#000"/>
<text transform="translate(956.5,940) scale(0.935,1)" font-family="'Liberation Sans', Arial, sans-serif" font-size="10" fill="#000" stroke="#000" stroke-width="0.15">18 Jul 2019</text>
<rect x="1021" y="928" width="1" height="3" fill="#000"/>
<text transform="translate(1020.5,940) scale(0.935,1)" font-family="'Liberation Sans', Arial, sans-serif" font-size="10" fill="#000" stroke="#000" stroke-width="0.15">28 Jul 2019</text>
<rect x="1085" y="928" width="1" height="3" fill="#000"/>
<text transform="translate(1084.5,940) scale(0.935,1)" font-family="'Liberation Sans', Arial, sans-serif" font-size="10" fill="#000" stroke="#000" stroke-width="0.15">6 Aug 2019</text>
<rect x="1149" y="928" width="1" height="3" fill="#000"/>
<text transform="translate(1148.5,940) scale(0.935,1)" font-family="'Liberation Sans', Arial, sans-serif" font-size="10" fill="#000" stroke="#000" stroke-width="0.15">15 Aug 2019</text>
<rect x="1213" y="928" width="1" height="3" fill="#000"/>
<text transform="translate(1212.5,940) scale(0.935,1)" font-family="'Liberation Sans', Arial, sans-serif" font-size="10" fill="#000" stroke="#000" stroke-width="0.15">25 Aug 2019</text>
<rect x="1277" y="928" width="1" height="3" fill="#000"/>
<text transform="translate(1276.5,940) scale(0.935,1)" font-family="'Liberation Sans', Arial, sans-serif" font-size="10" fill="#000" stroke="#000" stroke-width="0.15">3 Sep 2019</text>
<rect x="1341" y="928" width="1" height="3" fill="#000"/>
<text transform="translate(1340.5,940) scale(0.935,1)" font-family="'Liberation Sans', Arial, sans-serif" font-size="10" fill="#000" stroke="#000" stroke-width="0.15">12 Sep 2019</text>
<text transform="translate(1,595) scale(0.935,1)" font-family="'Liberation Sans', Arial, sans-serif" font-size="10" fill="#000" stroke="#000" stroke-width="0.15">MACD(12,26,9) 0.3797 0.0922</text>
<text transform="translate(1,780) scale(0.935,1)" font-family="'Liberation Sans', Arial, sans-serif" font-size="10" fill="#000" stroke="#000" stroke-width="0.15">RSI(14) 64.8119</text>
<path d="M0,38 L3.5,33 L7,38 Z" fill="#000" shape-rendering="auto"/>
<text transform="translate(12,39) scale(0.935,1)" font-family="'Liberation Sans', Arial, sans-serif" font-size="10" fill="#000" stroke="#000" stroke-width="0.15">USDJPY-,Daily</text>
<text transform="translate(82,39) scale(0.935,1)" font-family="'Liberation Sans', Arial, sans-serif" font-size="10" fill="#000" stroke="#000" stroke-width="0.15">108.163 108.251 107.898 108.130</text>
<rect x="0" y="45" width="221" height="68" fill="#fff"/>
<linearGradient id="gs" x1="0" y1="0" x2="0" y2="1"><stop offset="0" stop-color="#5b5bff"/><stop offset="1" stop-color="#3d3df2"/></linearGradient>
<linearGradient id="gp" x1="0" y1="0" x2="0" y2="1"><stop offset="0" stop-color="#3434e6"/><stop offset="1" stop-color="#0000b4"/></linearGradient>
<rect x="0" y="47" width="52" height="25" fill="url(#gs)"/>
<rect x="0" y="71" width="109" height="40" fill="url(#gp)"/>
<rect x="4" y="70" width="44" height="1" fill="#000080"/>
<rect x="4" y="71" width="44" height="1" fill="#8c8cff"/>
<rect x="167" y="47" width="52" height="25" fill="url(#gs)"/>
<rect x="111" y="71" width="108" height="40" fill="url(#gp)"/>
<rect x="171" y="70" width="44" height="1" fill="#000080"/>
<rect x="171" y="71" width="44" height="1" fill="#8c8cff"/>
<rect x="0" y="47" width="52" height="1" fill="#2a2ab8"/>
<rect x="167" y="47" width="52" height="1" fill="#2a2ab8"/>
<rect x="0" y="47" width="1" height="64" fill="#2020b0"/>
<rect x="111" y="71" width="1" height="40" fill="#1010a8"/>
<rect x="218" y="47" width="1" height="64" fill="#1010a8"/>
<rect x="108" y="71" width="1" height="40" fill="#1010a8"/>
<rect x="0" y="110" width="109" height="1" fill="#00008c"/>
<rect x="111" y="110" width="108" height="1" fill="#00008c"/>
<rect x="54.5" y="47.5" width="110" height="21" fill="#fff" stroke="#a0a0a0"/>
<rect x="55" y="48" width="20" height="20" fill="#e6e6e6"/>
<rect x="75" y="48" width="1" height="20" fill="#a0a0a0"/>
<rect x="144" y="48" width="20" height="20" fill="#e6e6e6"/>
<rect x="143" y="48" width="1" height="20" fill="#a0a0a0"/>
<path d="M62.5,56 L67.5,56 L65,59 Z" fill="#000"/>
<path d="M151.5,59 L156.5,59 L154,56 Z" fill="#000"/>
<text x="140" y="62.5" text-anchor="end" font-family="'Liberation Sans', Arial, sans-serif" font-size="12" fill="#000">1.00</text>
<text x="12.3" y="62.8" font-family="'Liberation Sans', Arial, sans-serif" font-size="11" fill="#fff">SELL</text>
<text x="180.3" y="62.8" font-family="'Liberation Sans', Arial, sans-serif" font-size="11" fill="#fff">BUY</text>
<text x="23.4" y="101.8" font-family="'Liberation Sans', Arial, sans-serif" font-size="12" font-weight="700" fill="#fff">108</text>
<text x="47.8" y="101.8" font-family="'Liberation Sans', Arial, sans-serif" font-size="32.5" fill="#fff">13</text>
<text x="0" y="0" transform="translate(86.6,85.6) scale(1.3,1)" font-family="'Liberation Sans', Arial, sans-serif" font-size="10.5" font-weight="700" fill="#fff">0</text>
<text x="133.4" y="101.8" font-family="'Liberation Sans', Arial, sans-serif" font-size="12" font-weight="700" fill="#fff">108</text>
<text x="158" y="101.8" font-family="'Liberation Sans', Arial, sans-serif" font-size="32.5" fill="#fff">14</text>
<text x="0" y="0" transform="translate(197.6,85.6) scale(1.3,1)" font-family="'Liberation Sans', Arial, sans-serif" font-size="10.5" font-weight="700" fill="#fff">8</text>
<path d="M1358.5,28 L1368.5,28 L1363.5,33 Z" fill="#c0c0c0" shape-rendering="auto"/>
</g>
</svg>
</body></html>
